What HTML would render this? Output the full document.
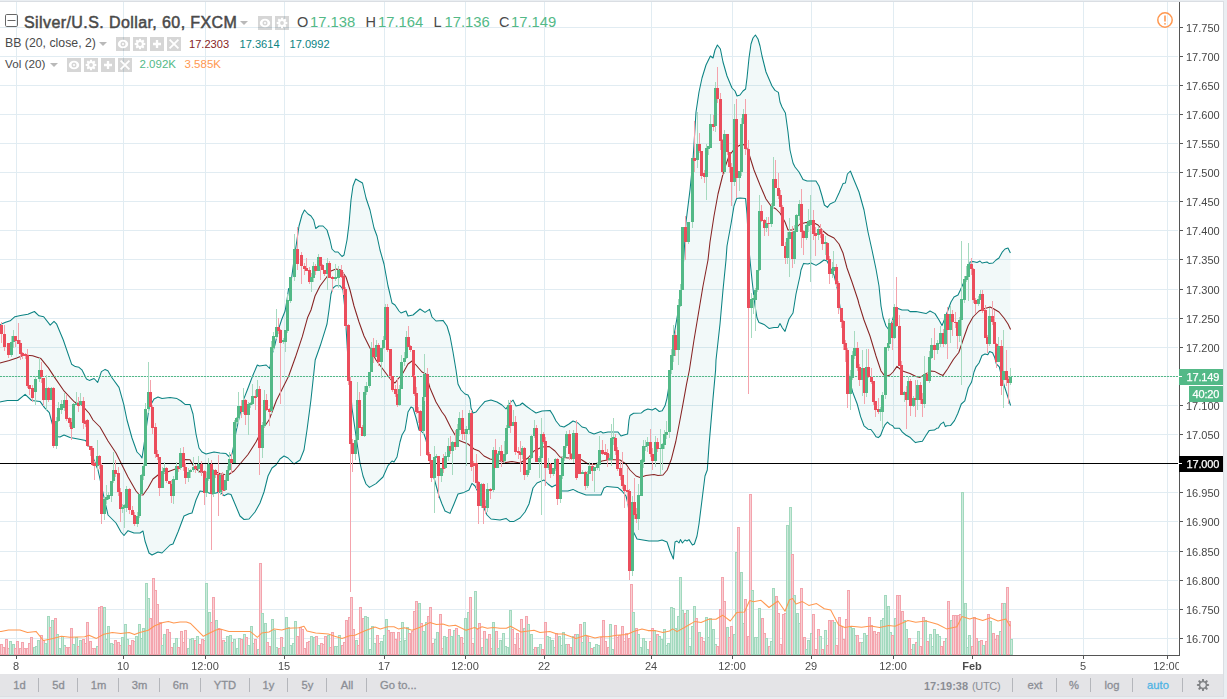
<!DOCTYPE html>
<html><head><meta charset="utf-8"><title>Silver/U.S. Dollar</title>
<style>
html,body{margin:0;padding:0;background:#eaeef2;}
body{width:1227px;height:699px;overflow:hidden;position:relative;font-family:"Liberation Sans",sans-serif;}
#wrap{position:absolute;left:0;top:0;width:1227px;height:699px;overflow:hidden;background:#eaeef2;}
#topb{position:absolute;left:0;top:1px;width:1224px;height:1px;background:#dadee3;}
#chart{position:absolute;left:0;top:2px;width:1223px;height:672px;background:#fff;}
#rb{position:absolute;left:1223px;top:1px;width:1px;height:696px;background:#dadee3;}
#tbar{position:absolute;left:0;top:674px;width:1223px;height:22px;background:#e4e4e7;}
#bb{position:absolute;left:0;top:696px;width:1224px;height:1px;background:#dcdfe3;}
svg#c{position:absolute;left:0;top:0;}
.pl,.tl,.lab{will-change:transform;}
.pl{position:absolute;left:1186px;font-size:11px;line-height:13px;color:#474747;white-space:nowrap;}
.tl{position:absolute;top:660px;width:60px;text-align:center;font-size:11px;line-height:13px;color:#4c4c4c;white-space:nowrap;}
.tl.b{font-weight:bold;}
#tclip{position:absolute;left:0;top:656px;width:1179px;height:18px;overflow:hidden;}
#tclip .tl{top:4px;}
.ib{position:absolute;}
.t1{position:absolute;font-size:16px;line-height:18px;font-weight:normal;-webkit-text-stroke:0.5px #4a4a4a;color:#4a4a4a;white-space:nowrap;letter-spacing:0.41px;}
.o1{position:absolute;font-size:14.5px;line-height:18px;color:#4a4a4a;white-space:nowrap;}
.v1{position:absolute;font-size:14.8px;line-height:18px;color:#53b987;white-space:nowrap;letter-spacing:0;}
.t2{position:absolute;font-size:12.5px;line-height:15px;color:#4a4a4a;white-space:nowrap;}
.v2{position:absolute;font-size:11.1px;line-height:15px;white-space:nowrap;}
.bt{position:absolute;top:678.4px;width:60px;text-align:center;font-size:11.2px;line-height:14px;color:#8b8e95;-webkit-text-stroke:0.3px #8b8e95;white-space:nowrap;}
.bt.au{color:#4fb4e4;-webkit-text-stroke:0.3px #4fb4e4;}
.sep{position:absolute;top:678px;width:1px;height:14px;background:#b4b6bb;}
.lab{position:absolute;left:1179px;width:44px;height:16px;font-size:11px;line-height:16px;color:#fff;text-indent:7.5px;letter-spacing:-0.15px;-webkit-text-stroke:0.25px #fff;white-space:nowrap;}
.lab i{position:absolute;left:0;top:7px;width:3px;height:1px;background:#fff;}
</style></head><body>
<div id="wrap">
<div id="topb"></div>
<div id="chart"></div>
<div id="rb"></div>
<div id="tbar"></div>
<div id="bb"></div>
<svg id="c" width="1227" height="699" viewBox="0 0 1227 699">
<path d="M0 27.5H1178M0 56.5H1178M0 85.5H1178M0 114.5H1178M0 143.5H1178M0 172.5H1178M0 201.5H1178M0 230.5H1178M0 259.5H1178M0 289.5H1178M0 318.5H1178M0 347.5H1178M0 376.5H1178M0 405.5H1178M0 434.5H1178M0 463.5H1178M0 492.5H1178M0 521.5H1178M0 551.5H1178M0 580.5H1178M0 609.5H1178M0 638.5H1178M16.5 2V655M123.5 2V655M205.5 2V655M284.5 2V655M384.5 2V655M465.5 2V655M544.5 2V655M651.5 2V655M732.5 2V655M811.5 2V655M893.5 2V655M972.5 2V655M1083.5 2V655M1167.5 2V655" stroke="#e1ecf2" stroke-width="1" fill="none" shape-rendering="crispEdges"/>
<rect x="0.5" y="644.5" width="2" height="10" fill="#f8cfd4" stroke="#f4a4ad"/>
<rect x="2.5" y="647.5" width="2" height="7" fill="#f8cfd4" stroke="#f4a4ad"/>
<rect x="5.5" y="639.5" width="2" height="15" fill="#f8cfd4" stroke="#f4a4ad"/>
<rect x="7.5" y="648.5" width="2" height="6" fill="#f8cfd4" stroke="#f4a4ad"/>
<rect x="9.5" y="641.5" width="2" height="13" fill="#cdeadc" stroke="#a2d9be"/>
<rect x="12.5" y="644.5" width="2" height="10" fill="#cdeadc" stroke="#a2d9be"/>
<rect x="14.5" y="648.5" width="2" height="6" fill="#f8cfd4" stroke="#f4a4ad"/>
<rect x="16.5" y="641.5" width="2" height="13" fill="#f8cfd4" stroke="#f4a4ad"/>
<rect x="19.5" y="648.5" width="2" height="6" fill="#f8cfd4" stroke="#f4a4ad"/>
<rect x="21.5" y="642.5" width="2" height="12" fill="#f8cfd4" stroke="#f4a4ad"/>
<rect x="23.5" y="648.5" width="2" height="6" fill="#f8cfd4" stroke="#f4a4ad"/>
<rect x="26.5" y="648.5" width="2" height="6" fill="#f8cfd4" stroke="#f4a4ad"/>
<rect x="28.5" y="643.5" width="2" height="11" fill="#f8cfd4" stroke="#f4a4ad"/>
<rect x="30.5" y="637.5" width="2" height="17" fill="#f8cfd4" stroke="#f4a4ad"/>
<rect x="33.5" y="647.5" width="2" height="7" fill="#cdeadc" stroke="#a2d9be"/>
<rect x="35.5" y="646.5" width="2" height="8" fill="#cdeadc" stroke="#a2d9be"/>
<rect x="37.5" y="640.5" width="2" height="14" fill="#cdeadc" stroke="#a2d9be"/>
<rect x="40.5" y="635.5" width="2" height="19" fill="#f8cfd4" stroke="#f4a4ad"/>
<rect x="42.5" y="640.5" width="2" height="14" fill="#f8cfd4" stroke="#f4a4ad"/>
<rect x="44.5" y="643.5" width="2" height="11" fill="#cdeadc" stroke="#a2d9be"/>
<rect x="47.5" y="616.5" width="2" height="38" fill="#cdeadc" stroke="#a2d9be"/>
<rect x="49.5" y="627.5" width="2" height="27" fill="#f8cfd4" stroke="#f4a4ad"/>
<rect x="51.5" y="620.5" width="2" height="34" fill="#cdeadc" stroke="#a2d9be"/>
<rect x="54.5" y="618.5" width="2" height="36" fill="#f8cfd4" stroke="#f4a4ad"/>
<rect x="56.5" y="634.5" width="2" height="20" fill="#cdeadc" stroke="#a2d9be"/>
<rect x="58.5" y="648.5" width="2" height="6" fill="#cdeadc" stroke="#a2d9be"/>
<rect x="61.5" y="636.5" width="2" height="18" fill="#cdeadc" stroke="#a2d9be"/>
<rect x="63.5" y="645.5" width="2" height="9" fill="#cdeadc" stroke="#a2d9be"/>
<rect x="65.5" y="647.5" width="2" height="7" fill="#f8cfd4" stroke="#f4a4ad"/>
<rect x="68.5" y="647.5" width="2" height="7" fill="#f8cfd4" stroke="#f4a4ad"/>
<rect x="70.5" y="628.5" width="2" height="26" fill="#f8cfd4" stroke="#f4a4ad"/>
<rect x="72.5" y="644.5" width="2" height="10" fill="#cdeadc" stroke="#a2d9be"/>
<rect x="75.5" y="637.5" width="2" height="17" fill="#cdeadc" stroke="#a2d9be"/>
<rect x="77.5" y="646.5" width="2" height="8" fill="#f8cfd4" stroke="#f4a4ad"/>
<rect x="79.5" y="640.5" width="2" height="14" fill="#cdeadc" stroke="#a2d9be"/>
<rect x="82.5" y="639.5" width="2" height="15" fill="#f8cfd4" stroke="#f4a4ad"/>
<rect x="84.5" y="643.5" width="2" height="11" fill="#f8cfd4" stroke="#f4a4ad"/>
<rect x="86.5" y="622.5" width="2" height="32" fill="#f8cfd4" stroke="#f4a4ad"/>
<rect x="89.5" y="641.5" width="2" height="13" fill="#f8cfd4" stroke="#f4a4ad"/>
<rect x="91.5" y="648.5" width="2" height="6" fill="#f8cfd4" stroke="#f4a4ad"/>
<rect x="93.5" y="648.5" width="2" height="6" fill="#f8cfd4" stroke="#f4a4ad"/>
<rect x="96.5" y="646.5" width="2" height="8" fill="#cdeadc" stroke="#a2d9be"/>
<rect x="98.5" y="607.5" width="2" height="47" fill="#f8cfd4" stroke="#f4a4ad"/>
<rect x="100.5" y="606.5" width="2" height="48" fill="#f8cfd4" stroke="#f4a4ad"/>
<rect x="103.5" y="607.5" width="2" height="47" fill="#cdeadc" stroke="#a2d9be"/>
<rect x="105.5" y="639.5" width="2" height="15" fill="#cdeadc" stroke="#a2d9be"/>
<rect x="107.5" y="626.5" width="2" height="28" fill="#cdeadc" stroke="#a2d9be"/>
<rect x="110.5" y="643.5" width="2" height="11" fill="#cdeadc" stroke="#a2d9be"/>
<rect x="112.5" y="644.5" width="2" height="10" fill="#cdeadc" stroke="#a2d9be"/>
<rect x="114.5" y="640.5" width="2" height="14" fill="#f8cfd4" stroke="#f4a4ad"/>
<rect x="117.5" y="642.5" width="2" height="12" fill="#f8cfd4" stroke="#f4a4ad"/>
<rect x="119.5" y="645.5" width="2" height="9" fill="#f8cfd4" stroke="#f4a4ad"/>
<rect x="121.5" y="637.5" width="2" height="17" fill="#cdeadc" stroke="#a2d9be"/>
<rect x="124.5" y="624.5" width="2" height="30" fill="#cdeadc" stroke="#a2d9be"/>
<rect x="126.5" y="639.5" width="2" height="15" fill="#cdeadc" stroke="#a2d9be"/>
<rect x="128.5" y="645.5" width="2" height="9" fill="#f8cfd4" stroke="#f4a4ad"/>
<rect x="131.5" y="640.5" width="2" height="14" fill="#f8cfd4" stroke="#f4a4ad"/>
<rect x="133.5" y="641.5" width="2" height="13" fill="#f8cfd4" stroke="#f4a4ad"/>
<rect x="135.5" y="636.5" width="2" height="18" fill="#cdeadc" stroke="#a2d9be"/>
<rect x="138.5" y="624.5" width="2" height="30" fill="#cdeadc" stroke="#a2d9be"/>
<rect x="140.5" y="638.5" width="2" height="16" fill="#cdeadc" stroke="#a2d9be"/>
<rect x="142.5" y="628.5" width="2" height="26" fill="#cdeadc" stroke="#a2d9be"/>
<rect x="145.5" y="583.5" width="2" height="71" fill="#cdeadc" stroke="#a2d9be"/>
<rect x="147.5" y="598.5" width="2" height="56" fill="#cdeadc" stroke="#a2d9be"/>
<rect x="149.5" y="618.5" width="2" height="36" fill="#f8cfd4" stroke="#f4a4ad"/>
<rect x="152.5" y="578.5" width="2" height="76" fill="#f8cfd4" stroke="#f4a4ad"/>
<rect x="154.5" y="590.5" width="2" height="64" fill="#f8cfd4" stroke="#f4a4ad"/>
<rect x="156.5" y="604.5" width="2" height="50" fill="#f8cfd4" stroke="#f4a4ad"/>
<rect x="159.5" y="622.5" width="2" height="32" fill="#f8cfd4" stroke="#f4a4ad"/>
<rect x="161.5" y="645.5" width="2" height="9" fill="#cdeadc" stroke="#a2d9be"/>
<rect x="163.5" y="634.5" width="2" height="20" fill="#cdeadc" stroke="#a2d9be"/>
<rect x="166.5" y="629.5" width="2" height="25" fill="#f8cfd4" stroke="#f4a4ad"/>
<rect x="168.5" y="632.5" width="2" height="22" fill="#f8cfd4" stroke="#f4a4ad"/>
<rect x="170.5" y="647.5" width="2" height="7" fill="#f8cfd4" stroke="#f4a4ad"/>
<rect x="173.5" y="643.5" width="2" height="11" fill="#cdeadc" stroke="#a2d9be"/>
<rect x="175.5" y="638.5" width="2" height="16" fill="#cdeadc" stroke="#a2d9be"/>
<rect x="177.5" y="647.5" width="2" height="7" fill="#f8cfd4" stroke="#f4a4ad"/>
<rect x="180.5" y="631.5" width="2" height="23" fill="#f8cfd4" stroke="#f4a4ad"/>
<rect x="182.5" y="642.5" width="2" height="12" fill="#f8cfd4" stroke="#f4a4ad"/>
<rect x="184.5" y="630.5" width="2" height="24" fill="#f8cfd4" stroke="#f4a4ad"/>
<rect x="187.5" y="648.5" width="2" height="6" fill="#cdeadc" stroke="#a2d9be"/>
<rect x="189.5" y="639.5" width="2" height="15" fill="#cdeadc" stroke="#a2d9be"/>
<rect x="191.5" y="638.5" width="2" height="16" fill="#cdeadc" stroke="#a2d9be"/>
<rect x="194.5" y="640.5" width="2" height="14" fill="#f8cfd4" stroke="#f4a4ad"/>
<rect x="196.5" y="636.5" width="2" height="18" fill="#cdeadc" stroke="#a2d9be"/>
<rect x="198.5" y="644.5" width="2" height="10" fill="#f8cfd4" stroke="#f4a4ad"/>
<rect x="201.5" y="639.5" width="2" height="15" fill="#f8cfd4" stroke="#f4a4ad"/>
<rect x="203.5" y="640.5" width="2" height="14" fill="#f8cfd4" stroke="#f4a4ad"/>
<rect x="205.5" y="583.5" width="2" height="71" fill="#cdeadc" stroke="#a2d9be"/>
<rect x="208.5" y="612.5" width="2" height="42" fill="#cdeadc" stroke="#a2d9be"/>
<rect x="210.5" y="622.5" width="2" height="32" fill="#f8cfd4" stroke="#f4a4ad"/>
<rect x="212.5" y="597.5" width="2" height="57" fill="#f8cfd4" stroke="#f4a4ad"/>
<rect x="215.5" y="620.5" width="2" height="34" fill="#cdeadc" stroke="#a2d9be"/>
<rect x="217.5" y="628.5" width="2" height="26" fill="#f8cfd4" stroke="#f4a4ad"/>
<rect x="219.5" y="629.5" width="2" height="25" fill="#f8cfd4" stroke="#f4a4ad"/>
<rect x="222.5" y="640.5" width="2" height="14" fill="#f8cfd4" stroke="#f4a4ad"/>
<rect x="224.5" y="642.5" width="2" height="12" fill="#cdeadc" stroke="#a2d9be"/>
<rect x="226.5" y="636.5" width="2" height="18" fill="#cdeadc" stroke="#a2d9be"/>
<rect x="229.5" y="635.5" width="2" height="19" fill="#cdeadc" stroke="#a2d9be"/>
<rect x="231.5" y="642.5" width="2" height="12" fill="#f8cfd4" stroke="#f4a4ad"/>
<rect x="233.5" y="639.5" width="2" height="15" fill="#cdeadc" stroke="#a2d9be"/>
<rect x="236.5" y="648.5" width="2" height="6" fill="#cdeadc" stroke="#a2d9be"/>
<rect x="238.5" y="638.5" width="2" height="16" fill="#cdeadc" stroke="#a2d9be"/>
<rect x="240.5" y="639.5" width="2" height="15" fill="#f8cfd4" stroke="#f4a4ad"/>
<rect x="243.5" y="634.5" width="2" height="20" fill="#cdeadc" stroke="#a2d9be"/>
<rect x="245.5" y="637.5" width="2" height="17" fill="#f8cfd4" stroke="#f4a4ad"/>
<rect x="247.5" y="645.5" width="2" height="9" fill="#cdeadc" stroke="#a2d9be"/>
<rect x="250.5" y="626.5" width="2" height="28" fill="#cdeadc" stroke="#a2d9be"/>
<rect x="252.5" y="643.5" width="2" height="11" fill="#cdeadc" stroke="#a2d9be"/>
<rect x="254.5" y="639.5" width="2" height="15" fill="#f8cfd4" stroke="#f4a4ad"/>
<rect x="257.5" y="649.5" width="2" height="5" fill="#cdeadc" stroke="#a2d9be"/>
<rect x="259.5" y="563.5" width="2" height="91" fill="#f8cfd4" stroke="#f4a4ad"/>
<rect x="261.5" y="613.5" width="2" height="41" fill="#cdeadc" stroke="#a2d9be"/>
<rect x="264.5" y="623.5" width="2" height="31" fill="#cdeadc" stroke="#a2d9be"/>
<rect x="266.5" y="642.5" width="2" height="12" fill="#f8cfd4" stroke="#f4a4ad"/>
<rect x="268.5" y="646.5" width="2" height="8" fill="#f8cfd4" stroke="#f4a4ad"/>
<rect x="271.5" y="619.5" width="2" height="35" fill="#cdeadc" stroke="#a2d9be"/>
<rect x="273.5" y="630.5" width="2" height="24" fill="#cdeadc" stroke="#a2d9be"/>
<rect x="275.5" y="647.5" width="2" height="7" fill="#cdeadc" stroke="#a2d9be"/>
<rect x="278.5" y="648.5" width="2" height="6" fill="#f8cfd4" stroke="#f4a4ad"/>
<rect x="280.5" y="637.5" width="2" height="17" fill="#f8cfd4" stroke="#f4a4ad"/>
<rect x="282.5" y="647.5" width="2" height="7" fill="#cdeadc" stroke="#a2d9be"/>
<rect x="285.5" y="617.5" width="2" height="37" fill="#cdeadc" stroke="#a2d9be"/>
<rect x="287.5" y="627.5" width="2" height="27" fill="#cdeadc" stroke="#a2d9be"/>
<rect x="289.5" y="645.5" width="2" height="9" fill="#cdeadc" stroke="#a2d9be"/>
<rect x="292.5" y="643.5" width="2" height="11" fill="#cdeadc" stroke="#a2d9be"/>
<rect x="294.5" y="621.5" width="2" height="33" fill="#cdeadc" stroke="#a2d9be"/>
<rect x="296.5" y="636.5" width="2" height="18" fill="#f8cfd4" stroke="#f4a4ad"/>
<rect x="299.5" y="627.5" width="2" height="27" fill="#f8cfd4" stroke="#f4a4ad"/>
<rect x="301.5" y="629.5" width="2" height="25" fill="#f8cfd4" stroke="#f4a4ad"/>
<rect x="303.5" y="648.5" width="2" height="6" fill="#f8cfd4" stroke="#f4a4ad"/>
<rect x="306.5" y="642.5" width="2" height="12" fill="#f8cfd4" stroke="#f4a4ad"/>
<rect x="308.5" y="641.5" width="2" height="13" fill="#f8cfd4" stroke="#f4a4ad"/>
<rect x="310.5" y="636.5" width="2" height="18" fill="#cdeadc" stroke="#a2d9be"/>
<rect x="313.5" y="637.5" width="2" height="17" fill="#cdeadc" stroke="#a2d9be"/>
<rect x="315.5" y="636.5" width="2" height="18" fill="#f8cfd4" stroke="#f4a4ad"/>
<rect x="317.5" y="645.5" width="2" height="9" fill="#cdeadc" stroke="#a2d9be"/>
<rect x="320.5" y="643.5" width="2" height="11" fill="#f8cfd4" stroke="#f4a4ad"/>
<rect x="322.5" y="644.5" width="2" height="10" fill="#f8cfd4" stroke="#f4a4ad"/>
<rect x="324.5" y="636.5" width="2" height="18" fill="#f8cfd4" stroke="#f4a4ad"/>
<rect x="327.5" y="635.5" width="2" height="19" fill="#cdeadc" stroke="#a2d9be"/>
<rect x="329.5" y="647.5" width="2" height="7" fill="#f8cfd4" stroke="#f4a4ad"/>
<rect x="331.5" y="632.5" width="2" height="22" fill="#f8cfd4" stroke="#f4a4ad"/>
<rect x="334.5" y="646.5" width="2" height="8" fill="#cdeadc" stroke="#a2d9be"/>
<rect x="336.5" y="646.5" width="2" height="8" fill="#cdeadc" stroke="#a2d9be"/>
<rect x="338.5" y="635.5" width="2" height="19" fill="#cdeadc" stroke="#a2d9be"/>
<rect x="341.5" y="645.5" width="2" height="9" fill="#f8cfd4" stroke="#f4a4ad"/>
<rect x="343.5" y="642.5" width="2" height="12" fill="#f8cfd4" stroke="#f4a4ad"/>
<rect x="345.5" y="620.5" width="2" height="34" fill="#f8cfd4" stroke="#f4a4ad"/>
<rect x="348.5" y="617.5" width="2" height="37" fill="#f8cfd4" stroke="#f4a4ad"/>
<rect x="350.5" y="597.5" width="2" height="57" fill="#f8cfd4" stroke="#f4a4ad"/>
<rect x="352.5" y="629.5" width="2" height="25" fill="#f8cfd4" stroke="#f4a4ad"/>
<rect x="355.5" y="640.5" width="2" height="14" fill="#cdeadc" stroke="#a2d9be"/>
<rect x="357.5" y="645.5" width="2" height="9" fill="#f8cfd4" stroke="#f4a4ad"/>
<rect x="359.5" y="607.5" width="2" height="47" fill="#f8cfd4" stroke="#f4a4ad"/>
<rect x="362.5" y="618.5" width="2" height="36" fill="#f8cfd4" stroke="#f4a4ad"/>
<rect x="364.5" y="616.5" width="2" height="38" fill="#cdeadc" stroke="#a2d9be"/>
<rect x="366.5" y="617.5" width="2" height="37" fill="#cdeadc" stroke="#a2d9be"/>
<rect x="369.5" y="649.5" width="2" height="5" fill="#cdeadc" stroke="#a2d9be"/>
<rect x="371.5" y="626.5" width="2" height="28" fill="#cdeadc" stroke="#a2d9be"/>
<rect x="373.5" y="643.5" width="2" height="11" fill="#cdeadc" stroke="#a2d9be"/>
<rect x="376.5" y="635.5" width="2" height="19" fill="#f8cfd4" stroke="#f4a4ad"/>
<rect x="378.5" y="643.5" width="2" height="11" fill="#f8cfd4" stroke="#f4a4ad"/>
<rect x="380.5" y="641.5" width="2" height="13" fill="#cdeadc" stroke="#a2d9be"/>
<rect x="383.5" y="635.5" width="2" height="19" fill="#cdeadc" stroke="#a2d9be"/>
<rect x="385.5" y="619.5" width="2" height="35" fill="#cdeadc" stroke="#a2d9be"/>
<rect x="387.5" y="630.5" width="2" height="24" fill="#f8cfd4" stroke="#f4a4ad"/>
<rect x="390.5" y="632.5" width="2" height="22" fill="#f8cfd4" stroke="#f4a4ad"/>
<rect x="392.5" y="632.5" width="2" height="22" fill="#f8cfd4" stroke="#f4a4ad"/>
<rect x="394.5" y="639.5" width="2" height="15" fill="#f8cfd4" stroke="#f4a4ad"/>
<rect x="397.5" y="632.5" width="2" height="22" fill="#f8cfd4" stroke="#f4a4ad"/>
<rect x="399.5" y="641.5" width="2" height="13" fill="#cdeadc" stroke="#a2d9be"/>
<rect x="401.5" y="622.5" width="2" height="32" fill="#cdeadc" stroke="#a2d9be"/>
<rect x="404.5" y="640.5" width="2" height="14" fill="#cdeadc" stroke="#a2d9be"/>
<rect x="406.5" y="627.5" width="2" height="27" fill="#cdeadc" stroke="#a2d9be"/>
<rect x="408.5" y="633.5" width="2" height="21" fill="#f8cfd4" stroke="#f4a4ad"/>
<rect x="411.5" y="631.5" width="2" height="23" fill="#f8cfd4" stroke="#f4a4ad"/>
<rect x="413.5" y="611.5" width="2" height="43" fill="#f8cfd4" stroke="#f4a4ad"/>
<rect x="415.5" y="601.5" width="2" height="53" fill="#f8cfd4" stroke="#f4a4ad"/>
<rect x="418.5" y="603.5" width="2" height="51" fill="#cdeadc" stroke="#a2d9be"/>
<rect x="420.5" y="623.5" width="2" height="31" fill="#f8cfd4" stroke="#f4a4ad"/>
<rect x="422.5" y="631.5" width="2" height="23" fill="#cdeadc" stroke="#a2d9be"/>
<rect x="425.5" y="622.5" width="2" height="32" fill="#cdeadc" stroke="#a2d9be"/>
<rect x="427.5" y="616.5" width="2" height="38" fill="#f8cfd4" stroke="#f4a4ad"/>
<rect x="429.5" y="607.5" width="2" height="47" fill="#f8cfd4" stroke="#f4a4ad"/>
<rect x="432.5" y="643.5" width="2" height="11" fill="#f8cfd4" stroke="#f4a4ad"/>
<rect x="434.5" y="639.5" width="2" height="15" fill="#cdeadc" stroke="#a2d9be"/>
<rect x="436.5" y="632.5" width="2" height="22" fill="#cdeadc" stroke="#a2d9be"/>
<rect x="439.5" y="614.5" width="2" height="40" fill="#f8cfd4" stroke="#f4a4ad"/>
<rect x="441.5" y="648.5" width="2" height="6" fill="#f8cfd4" stroke="#f4a4ad"/>
<rect x="443.5" y="636.5" width="2" height="18" fill="#cdeadc" stroke="#a2d9be"/>
<rect x="446.5" y="637.5" width="2" height="17" fill="#cdeadc" stroke="#a2d9be"/>
<rect x="448.5" y="629.5" width="2" height="25" fill="#f8cfd4" stroke="#f4a4ad"/>
<rect x="450.5" y="636.5" width="2" height="18" fill="#cdeadc" stroke="#a2d9be"/>
<rect x="453.5" y="630.5" width="2" height="24" fill="#cdeadc" stroke="#a2d9be"/>
<rect x="455.5" y="628.5" width="2" height="26" fill="#f8cfd4" stroke="#f4a4ad"/>
<rect x="457.5" y="635.5" width="2" height="19" fill="#cdeadc" stroke="#a2d9be"/>
<rect x="460.5" y="637.5" width="2" height="17" fill="#f8cfd4" stroke="#f4a4ad"/>
<rect x="462.5" y="643.5" width="2" height="11" fill="#f8cfd4" stroke="#f4a4ad"/>
<rect x="464.5" y="618.5" width="2" height="36" fill="#cdeadc" stroke="#a2d9be"/>
<rect x="467.5" y="612.5" width="2" height="42" fill="#cdeadc" stroke="#a2d9be"/>
<rect x="469.5" y="597.5" width="2" height="57" fill="#f8cfd4" stroke="#f4a4ad"/>
<rect x="471.5" y="643.5" width="2" height="11" fill="#f8cfd4" stroke="#f4a4ad"/>
<rect x="474.5" y="591.5" width="2" height="63" fill="#cdeadc" stroke="#a2d9be"/>
<rect x="476.5" y="629.5" width="2" height="25" fill="#f8cfd4" stroke="#f4a4ad"/>
<rect x="478.5" y="623.5" width="2" height="31" fill="#f8cfd4" stroke="#f4a4ad"/>
<rect x="481.5" y="647.5" width="2" height="7" fill="#cdeadc" stroke="#a2d9be"/>
<rect x="483.5" y="631.5" width="2" height="23" fill="#f8cfd4" stroke="#f4a4ad"/>
<rect x="485.5" y="639.5" width="2" height="15" fill="#cdeadc" stroke="#a2d9be"/>
<rect x="488.5" y="634.5" width="2" height="20" fill="#f8cfd4" stroke="#f4a4ad"/>
<rect x="490.5" y="648.5" width="2" height="6" fill="#f8cfd4" stroke="#f4a4ad"/>
<rect x="492.5" y="622.5" width="2" height="32" fill="#cdeadc" stroke="#a2d9be"/>
<rect x="495.5" y="631.5" width="2" height="23" fill="#f8cfd4" stroke="#f4a4ad"/>
<rect x="497.5" y="648.5" width="2" height="6" fill="#cdeadc" stroke="#a2d9be"/>
<rect x="499.5" y="640.5" width="2" height="14" fill="#cdeadc" stroke="#a2d9be"/>
<rect x="502.5" y="633.5" width="2" height="21" fill="#cdeadc" stroke="#a2d9be"/>
<rect x="504.5" y="646.5" width="2" height="8" fill="#cdeadc" stroke="#a2d9be"/>
<rect x="506.5" y="647.5" width="2" height="7" fill="#cdeadc" stroke="#a2d9be"/>
<rect x="509.5" y="610.5" width="2" height="44" fill="#cdeadc" stroke="#a2d9be"/>
<rect x="511.5" y="629.5" width="2" height="25" fill="#f8cfd4" stroke="#f4a4ad"/>
<rect x="513.5" y="644.5" width="2" height="10" fill="#f8cfd4" stroke="#f4a4ad"/>
<rect x="516.5" y="633.5" width="2" height="21" fill="#f8cfd4" stroke="#f4a4ad"/>
<rect x="518.5" y="648.5" width="2" height="6" fill="#f8cfd4" stroke="#f4a4ad"/>
<rect x="520.5" y="619.5" width="2" height="35" fill="#f8cfd4" stroke="#f4a4ad"/>
<rect x="523.5" y="628.5" width="2" height="26" fill="#cdeadc" stroke="#a2d9be"/>
<rect x="525.5" y="616.5" width="2" height="38" fill="#f8cfd4" stroke="#f4a4ad"/>
<rect x="527.5" y="624.5" width="2" height="30" fill="#cdeadc" stroke="#a2d9be"/>
<rect x="530.5" y="634.5" width="2" height="20" fill="#cdeadc" stroke="#a2d9be"/>
<rect x="532.5" y="649.5" width="2" height="5" fill="#cdeadc" stroke="#a2d9be"/>
<rect x="534.5" y="647.5" width="2" height="7" fill="#f8cfd4" stroke="#f4a4ad"/>
<rect x="537.5" y="647.5" width="2" height="7" fill="#cdeadc" stroke="#a2d9be"/>
<rect x="539.5" y="644.5" width="2" height="10" fill="#cdeadc" stroke="#a2d9be"/>
<rect x="541.5" y="649.5" width="2" height="5" fill="#f8cfd4" stroke="#f4a4ad"/>
<rect x="544.5" y="622.5" width="2" height="32" fill="#f8cfd4" stroke="#f4a4ad"/>
<rect x="546.5" y="636.5" width="2" height="18" fill="#cdeadc" stroke="#a2d9be"/>
<rect x="548.5" y="637.5" width="2" height="17" fill="#cdeadc" stroke="#a2d9be"/>
<rect x="551.5" y="640.5" width="2" height="14" fill="#cdeadc" stroke="#a2d9be"/>
<rect x="553.5" y="647.5" width="2" height="7" fill="#cdeadc" stroke="#a2d9be"/>
<rect x="555.5" y="633.5" width="2" height="21" fill="#f8cfd4" stroke="#f4a4ad"/>
<rect x="558.5" y="636.5" width="2" height="18" fill="#cdeadc" stroke="#a2d9be"/>
<rect x="560.5" y="645.5" width="2" height="9" fill="#cdeadc" stroke="#a2d9be"/>
<rect x="562.5" y="632.5" width="2" height="22" fill="#cdeadc" stroke="#a2d9be"/>
<rect x="565.5" y="644.5" width="2" height="10" fill="#cdeadc" stroke="#a2d9be"/>
<rect x="567.5" y="644.5" width="2" height="10" fill="#f8cfd4" stroke="#f4a4ad"/>
<rect x="569.5" y="647.5" width="2" height="7" fill="#f8cfd4" stroke="#f4a4ad"/>
<rect x="572.5" y="636.5" width="2" height="18" fill="#cdeadc" stroke="#a2d9be"/>
<rect x="574.5" y="634.5" width="2" height="20" fill="#f8cfd4" stroke="#f4a4ad"/>
<rect x="576.5" y="634.5" width="2" height="20" fill="#cdeadc" stroke="#a2d9be"/>
<rect x="579.5" y="624.5" width="2" height="30" fill="#f8cfd4" stroke="#f4a4ad"/>
<rect x="581.5" y="642.5" width="2" height="12" fill="#cdeadc" stroke="#a2d9be"/>
<rect x="583.5" y="622.5" width="2" height="32" fill="#cdeadc" stroke="#a2d9be"/>
<rect x="586.5" y="636.5" width="2" height="18" fill="#f8cfd4" stroke="#f4a4ad"/>
<rect x="588.5" y="642.5" width="2" height="12" fill="#cdeadc" stroke="#a2d9be"/>
<rect x="590.5" y="648.5" width="2" height="6" fill="#f8cfd4" stroke="#f4a4ad"/>
<rect x="593.5" y="647.5" width="2" height="7" fill="#cdeadc" stroke="#a2d9be"/>
<rect x="595.5" y="644.5" width="2" height="10" fill="#cdeadc" stroke="#a2d9be"/>
<rect x="597.5" y="645.5" width="2" height="9" fill="#cdeadc" stroke="#a2d9be"/>
<rect x="600.5" y="637.5" width="2" height="17" fill="#f8cfd4" stroke="#f4a4ad"/>
<rect x="602.5" y="620.5" width="2" height="34" fill="#f8cfd4" stroke="#f4a4ad"/>
<rect x="604.5" y="641.5" width="2" height="13" fill="#f8cfd4" stroke="#f4a4ad"/>
<rect x="607.5" y="647.5" width="2" height="7" fill="#f8cfd4" stroke="#f4a4ad"/>
<rect x="609.5" y="624.5" width="2" height="30" fill="#cdeadc" stroke="#a2d9be"/>
<rect x="611.5" y="649.5" width="2" height="5" fill="#cdeadc" stroke="#a2d9be"/>
<rect x="614.5" y="625.5" width="2" height="29" fill="#f8cfd4" stroke="#f4a4ad"/>
<rect x="616.5" y="637.5" width="2" height="17" fill="#f8cfd4" stroke="#f4a4ad"/>
<rect x="618.5" y="635.5" width="2" height="19" fill="#f8cfd4" stroke="#f4a4ad"/>
<rect x="621.5" y="626.5" width="2" height="28" fill="#f8cfd4" stroke="#f4a4ad"/>
<rect x="623.5" y="641.5" width="2" height="13" fill="#f8cfd4" stroke="#f4a4ad"/>
<rect x="625.5" y="633.5" width="2" height="21" fill="#f8cfd4" stroke="#f4a4ad"/>
<rect x="628.5" y="638.5" width="2" height="16" fill="#f8cfd4" stroke="#f4a4ad"/>
<rect x="630.5" y="584.5" width="2" height="70" fill="#f8cfd4" stroke="#f4a4ad"/>
<rect x="632.5" y="612.5" width="2" height="42" fill="#cdeadc" stroke="#a2d9be"/>
<rect x="635.5" y="628.5" width="2" height="26" fill="#f8cfd4" stroke="#f4a4ad"/>
<rect x="637.5" y="634.5" width="2" height="20" fill="#cdeadc" stroke="#a2d9be"/>
<rect x="639.5" y="647.5" width="2" height="7" fill="#cdeadc" stroke="#a2d9be"/>
<rect x="642.5" y="638.5" width="2" height="16" fill="#cdeadc" stroke="#a2d9be"/>
<rect x="644.5" y="641.5" width="2" height="13" fill="#cdeadc" stroke="#a2d9be"/>
<rect x="646.5" y="649.5" width="2" height="5" fill="#cdeadc" stroke="#a2d9be"/>
<rect x="649.5" y="641.5" width="2" height="13" fill="#f8cfd4" stroke="#f4a4ad"/>
<rect x="651.5" y="628.5" width="2" height="26" fill="#f8cfd4" stroke="#f4a4ad"/>
<rect x="653.5" y="630.5" width="2" height="24" fill="#cdeadc" stroke="#a2d9be"/>
<rect x="656.5" y="634.5" width="2" height="20" fill="#f8cfd4" stroke="#f4a4ad"/>
<rect x="658.5" y="636.5" width="2" height="18" fill="#cdeadc" stroke="#a2d9be"/>
<rect x="660.5" y="639.5" width="2" height="15" fill="#cdeadc" stroke="#a2d9be"/>
<rect x="663.5" y="629.5" width="2" height="25" fill="#cdeadc" stroke="#a2d9be"/>
<rect x="665.5" y="645.5" width="2" height="9" fill="#cdeadc" stroke="#a2d9be"/>
<rect x="667.5" y="643.5" width="2" height="11" fill="#cdeadc" stroke="#a2d9be"/>
<rect x="670.5" y="607.5" width="2" height="47" fill="#cdeadc" stroke="#a2d9be"/>
<rect x="672.5" y="608.5" width="2" height="46" fill="#cdeadc" stroke="#a2d9be"/>
<rect x="674.5" y="628.5" width="2" height="26" fill="#cdeadc" stroke="#a2d9be"/>
<rect x="677.5" y="616.5" width="2" height="38" fill="#cdeadc" stroke="#a2d9be"/>
<rect x="679.5" y="577.5" width="2" height="77" fill="#cdeadc" stroke="#a2d9be"/>
<rect x="681.5" y="610.5" width="2" height="44" fill="#cdeadc" stroke="#a2d9be"/>
<rect x="684.5" y="613.5" width="2" height="41" fill="#f8cfd4" stroke="#f4a4ad"/>
<rect x="686.5" y="610.5" width="2" height="44" fill="#cdeadc" stroke="#a2d9be"/>
<rect x="688.5" y="646.5" width="2" height="8" fill="#cdeadc" stroke="#a2d9be"/>
<rect x="691.5" y="626.5" width="2" height="28" fill="#cdeadc" stroke="#a2d9be"/>
<rect x="693.5" y="606.5" width="2" height="48" fill="#cdeadc" stroke="#a2d9be"/>
<rect x="695.5" y="618.5" width="2" height="36" fill="#f8cfd4" stroke="#f4a4ad"/>
<rect x="698.5" y="632.5" width="2" height="22" fill="#cdeadc" stroke="#a2d9be"/>
<rect x="700.5" y="637.5" width="2" height="17" fill="#f8cfd4" stroke="#f4a4ad"/>
<rect x="702.5" y="641.5" width="2" height="13" fill="#f8cfd4" stroke="#f4a4ad"/>
<rect x="705.5" y="617.5" width="2" height="37" fill="#cdeadc" stroke="#a2d9be"/>
<rect x="707.5" y="637.5" width="2" height="17" fill="#cdeadc" stroke="#a2d9be"/>
<rect x="709.5" y="618.5" width="2" height="36" fill="#cdeadc" stroke="#a2d9be"/>
<rect x="712.5" y="629.5" width="2" height="25" fill="#cdeadc" stroke="#a2d9be"/>
<rect x="714.5" y="644.5" width="2" height="10" fill="#cdeadc" stroke="#a2d9be"/>
<rect x="716.5" y="646.5" width="2" height="8" fill="#f8cfd4" stroke="#f4a4ad"/>
<rect x="719.5" y="609.5" width="2" height="45" fill="#f8cfd4" stroke="#f4a4ad"/>
<rect x="721.5" y="577.5" width="2" height="77" fill="#f8cfd4" stroke="#f4a4ad"/>
<rect x="723.5" y="601.5" width="2" height="53" fill="#f8cfd4" stroke="#f4a4ad"/>
<rect x="726.5" y="627.5" width="2" height="27" fill="#cdeadc" stroke="#a2d9be"/>
<rect x="728.5" y="637.5" width="2" height="17" fill="#f8cfd4" stroke="#f4a4ad"/>
<rect x="730.5" y="626.5" width="2" height="28" fill="#f8cfd4" stroke="#f4a4ad"/>
<rect x="733.5" y="634.5" width="2" height="20" fill="#cdeadc" stroke="#a2d9be"/>
<rect x="735.5" y="552.5" width="2" height="102" fill="#cdeadc" stroke="#a2d9be"/>
<rect x="737.5" y="527.5" width="2" height="127" fill="#f8cfd4" stroke="#f4a4ad"/>
<rect x="740.5" y="572.5" width="2" height="82" fill="#cdeadc" stroke="#a2d9be"/>
<rect x="742.5" y="623.5" width="2" height="31" fill="#cdeadc" stroke="#a2d9be"/>
<rect x="744.5" y="599.5" width="2" height="55" fill="#f8cfd4" stroke="#f4a4ad"/>
<rect x="747.5" y="636.5" width="2" height="18" fill="#f8cfd4" stroke="#f4a4ad"/>
<rect x="749.5" y="494.5" width="2" height="160" fill="#f8cfd4" stroke="#f4a4ad"/>
<rect x="751.5" y="590.5" width="2" height="64" fill="#cdeadc" stroke="#a2d9be"/>
<rect x="754.5" y="637.5" width="2" height="17" fill="#cdeadc" stroke="#a2d9be"/>
<rect x="756.5" y="637.5" width="2" height="17" fill="#cdeadc" stroke="#a2d9be"/>
<rect x="758.5" y="608.5" width="2" height="46" fill="#cdeadc" stroke="#a2d9be"/>
<rect x="761.5" y="618.5" width="2" height="36" fill="#f8cfd4" stroke="#f4a4ad"/>
<rect x="763.5" y="633.5" width="2" height="21" fill="#f8cfd4" stroke="#f4a4ad"/>
<rect x="765.5" y="638.5" width="2" height="16" fill="#cdeadc" stroke="#a2d9be"/>
<rect x="768.5" y="646.5" width="2" height="8" fill="#f8cfd4" stroke="#f4a4ad"/>
<rect x="770.5" y="641.5" width="2" height="13" fill="#cdeadc" stroke="#a2d9be"/>
<rect x="772.5" y="588.5" width="2" height="66" fill="#cdeadc" stroke="#a2d9be"/>
<rect x="775.5" y="596.5" width="2" height="58" fill="#f8cfd4" stroke="#f4a4ad"/>
<rect x="777.5" y="613.5" width="2" height="41" fill="#f8cfd4" stroke="#f4a4ad"/>
<rect x="779.5" y="644.5" width="2" height="10" fill="#f8cfd4" stroke="#f4a4ad"/>
<rect x="782.5" y="614.5" width="2" height="40" fill="#f8cfd4" stroke="#f4a4ad"/>
<rect x="784.5" y="613.5" width="2" height="41" fill="#f8cfd4" stroke="#f4a4ad"/>
<rect x="786.5" y="525.5" width="2" height="129" fill="#cdeadc" stroke="#a2d9be"/>
<rect x="789.5" y="507.5" width="2" height="147" fill="#cdeadc" stroke="#a2d9be"/>
<rect x="791.5" y="554.5" width="2" height="100" fill="#f8cfd4" stroke="#f4a4ad"/>
<rect x="793.5" y="595.5" width="2" height="59" fill="#cdeadc" stroke="#a2d9be"/>
<rect x="796.5" y="613.5" width="2" height="41" fill="#cdeadc" stroke="#a2d9be"/>
<rect x="798.5" y="623.5" width="2" height="31" fill="#cdeadc" stroke="#a2d9be"/>
<rect x="800.5" y="588.5" width="2" height="66" fill="#f8cfd4" stroke="#f4a4ad"/>
<rect x="803.5" y="637.5" width="2" height="17" fill="#f8cfd4" stroke="#f4a4ad"/>
<rect x="805.5" y="649.5" width="2" height="5" fill="#cdeadc" stroke="#a2d9be"/>
<rect x="807.5" y="640.5" width="2" height="14" fill="#cdeadc" stroke="#a2d9be"/>
<rect x="810.5" y="633.5" width="2" height="21" fill="#cdeadc" stroke="#a2d9be"/>
<rect x="812.5" y="614.5" width="2" height="40" fill="#f8cfd4" stroke="#f4a4ad"/>
<rect x="814.5" y="649.5" width="2" height="5" fill="#f8cfd4" stroke="#f4a4ad"/>
<rect x="817.5" y="629.5" width="2" height="25" fill="#f8cfd4" stroke="#f4a4ad"/>
<rect x="819.5" y="636.5" width="2" height="18" fill="#cdeadc" stroke="#a2d9be"/>
<rect x="821.5" y="649.5" width="2" height="5" fill="#f8cfd4" stroke="#f4a4ad"/>
<rect x="824.5" y="630.5" width="2" height="24" fill="#cdeadc" stroke="#a2d9be"/>
<rect x="826.5" y="645.5" width="2" height="9" fill="#f8cfd4" stroke="#f4a4ad"/>
<rect x="828.5" y="620.5" width="2" height="34" fill="#f8cfd4" stroke="#f4a4ad"/>
<rect x="831.5" y="620.5" width="2" height="34" fill="#f8cfd4" stroke="#f4a4ad"/>
<rect x="833.5" y="622.5" width="2" height="32" fill="#cdeadc" stroke="#a2d9be"/>
<rect x="835.5" y="645.5" width="2" height="9" fill="#f8cfd4" stroke="#f4a4ad"/>
<rect x="838.5" y="617.5" width="2" height="37" fill="#f8cfd4" stroke="#f4a4ad"/>
<rect x="840.5" y="626.5" width="2" height="28" fill="#f8cfd4" stroke="#f4a4ad"/>
<rect x="842.5" y="639.5" width="2" height="15" fill="#f8cfd4" stroke="#f4a4ad"/>
<rect x="845.5" y="619.5" width="2" height="35" fill="#f8cfd4" stroke="#f4a4ad"/>
<rect x="847.5" y="590.5" width="2" height="64" fill="#f8cfd4" stroke="#f4a4ad"/>
<rect x="849.5" y="627.5" width="2" height="27" fill="#cdeadc" stroke="#a2d9be"/>
<rect x="852.5" y="628.5" width="2" height="26" fill="#cdeadc" stroke="#a2d9be"/>
<rect x="854.5" y="635.5" width="2" height="19" fill="#cdeadc" stroke="#a2d9be"/>
<rect x="856.5" y="635.5" width="2" height="19" fill="#f8cfd4" stroke="#f4a4ad"/>
<rect x="859.5" y="642.5" width="2" height="12" fill="#f8cfd4" stroke="#f4a4ad"/>
<rect x="861.5" y="642.5" width="2" height="12" fill="#cdeadc" stroke="#a2d9be"/>
<rect x="863.5" y="633.5" width="2" height="21" fill="#cdeadc" stroke="#a2d9be"/>
<rect x="866.5" y="635.5" width="2" height="19" fill="#cdeadc" stroke="#a2d9be"/>
<rect x="868.5" y="617.5" width="2" height="37" fill="#f8cfd4" stroke="#f4a4ad"/>
<rect x="870.5" y="625.5" width="2" height="29" fill="#f8cfd4" stroke="#f4a4ad"/>
<rect x="873.5" y="631.5" width="2" height="23" fill="#f8cfd4" stroke="#f4a4ad"/>
<rect x="875.5" y="634.5" width="2" height="20" fill="#f8cfd4" stroke="#f4a4ad"/>
<rect x="877.5" y="632.5" width="2" height="22" fill="#f8cfd4" stroke="#f4a4ad"/>
<rect x="880.5" y="620.5" width="2" height="34" fill="#cdeadc" stroke="#a2d9be"/>
<rect x="882.5" y="618.5" width="2" height="36" fill="#cdeadc" stroke="#a2d9be"/>
<rect x="884.5" y="595.5" width="2" height="59" fill="#cdeadc" stroke="#a2d9be"/>
<rect x="887.5" y="606.5" width="2" height="48" fill="#cdeadc" stroke="#a2d9be"/>
<rect x="889.5" y="632.5" width="2" height="22" fill="#cdeadc" stroke="#a2d9be"/>
<rect x="891.5" y="635.5" width="2" height="19" fill="#f8cfd4" stroke="#f4a4ad"/>
<rect x="894.5" y="618.5" width="2" height="36" fill="#cdeadc" stroke="#a2d9be"/>
<rect x="896.5" y="595.5" width="2" height="59" fill="#f8cfd4" stroke="#f4a4ad"/>
<rect x="898.5" y="595.5" width="2" height="59" fill="#f8cfd4" stroke="#f4a4ad"/>
<rect x="901.5" y="611.5" width="2" height="43" fill="#f8cfd4" stroke="#f4a4ad"/>
<rect x="903.5" y="620.5" width="2" height="34" fill="#cdeadc" stroke="#a2d9be"/>
<rect x="905.5" y="629.5" width="2" height="25" fill="#cdeadc" stroke="#a2d9be"/>
<rect x="908.5" y="638.5" width="2" height="16" fill="#f8cfd4" stroke="#f4a4ad"/>
<rect x="910.5" y="649.5" width="2" height="5" fill="#f8cfd4" stroke="#f4a4ad"/>
<rect x="912.5" y="644.5" width="2" height="10" fill="#cdeadc" stroke="#a2d9be"/>
<rect x="915.5" y="642.5" width="2" height="12" fill="#f8cfd4" stroke="#f4a4ad"/>
<rect x="917.5" y="631.5" width="2" height="23" fill="#cdeadc" stroke="#a2d9be"/>
<rect x="919.5" y="646.5" width="2" height="8" fill="#f8cfd4" stroke="#f4a4ad"/>
<rect x="922.5" y="617.5" width="2" height="37" fill="#f8cfd4" stroke="#f4a4ad"/>
<rect x="924.5" y="620.5" width="2" height="34" fill="#cdeadc" stroke="#a2d9be"/>
<rect x="926.5" y="641.5" width="2" height="13" fill="#f8cfd4" stroke="#f4a4ad"/>
<rect x="929.5" y="634.5" width="2" height="20" fill="#cdeadc" stroke="#a2d9be"/>
<rect x="931.5" y="646.5" width="2" height="8" fill="#cdeadc" stroke="#a2d9be"/>
<rect x="933.5" y="629.5" width="2" height="25" fill="#cdeadc" stroke="#a2d9be"/>
<rect x="936.5" y="634.5" width="2" height="20" fill="#cdeadc" stroke="#a2d9be"/>
<rect x="938.5" y="636.5" width="2" height="18" fill="#cdeadc" stroke="#a2d9be"/>
<rect x="940.5" y="646.5" width="2" height="8" fill="#f8cfd4" stroke="#f4a4ad"/>
<rect x="943.5" y="641.5" width="2" height="13" fill="#f8cfd4" stroke="#f4a4ad"/>
<rect x="945.5" y="638.5" width="2" height="16" fill="#cdeadc" stroke="#a2d9be"/>
<rect x="947.5" y="601.5" width="2" height="53" fill="#f8cfd4" stroke="#f4a4ad"/>
<rect x="950.5" y="620.5" width="2" height="34" fill="#cdeadc" stroke="#a2d9be"/>
<rect x="952.5" y="615.5" width="2" height="39" fill="#f8cfd4" stroke="#f4a4ad"/>
<rect x="954.5" y="615.5" width="2" height="39" fill="#f8cfd4" stroke="#f4a4ad"/>
<rect x="957.5" y="615.5" width="2" height="39" fill="#f8cfd4" stroke="#f4a4ad"/>
<rect x="959.5" y="614.5" width="2" height="40" fill="#f8cfd4" stroke="#f4a4ad"/>
<rect x="961.5" y="492.5" width="2" height="162" fill="#cdeadc" stroke="#a2d9be"/>
<rect x="964.5" y="603.5" width="2" height="51" fill="#cdeadc" stroke="#a2d9be"/>
<rect x="966.5" y="647.5" width="2" height="7" fill="#cdeadc" stroke="#a2d9be"/>
<rect x="968.5" y="635.5" width="2" height="19" fill="#cdeadc" stroke="#a2d9be"/>
<rect x="971.5" y="646.5" width="2" height="8" fill="#f8cfd4" stroke="#f4a4ad"/>
<rect x="973.5" y="617.5" width="2" height="37" fill="#f8cfd4" stroke="#f4a4ad"/>
<rect x="975.5" y="638.5" width="2" height="16" fill="#f8cfd4" stroke="#f4a4ad"/>
<rect x="978.5" y="641.5" width="2" height="13" fill="#cdeadc" stroke="#a2d9be"/>
<rect x="980.5" y="640.5" width="2" height="14" fill="#f8cfd4" stroke="#f4a4ad"/>
<rect x="982.5" y="645.5" width="2" height="9" fill="#cdeadc" stroke="#a2d9be"/>
<rect x="985.5" y="641.5" width="2" height="13" fill="#f8cfd4" stroke="#f4a4ad"/>
<rect x="987.5" y="614.5" width="2" height="40" fill="#f8cfd4" stroke="#f4a4ad"/>
<rect x="989.5" y="621.5" width="2" height="33" fill="#cdeadc" stroke="#a2d9be"/>
<rect x="992.5" y="633.5" width="2" height="21" fill="#f8cfd4" stroke="#f4a4ad"/>
<rect x="994.5" y="639.5" width="2" height="15" fill="#f8cfd4" stroke="#f4a4ad"/>
<rect x="996.5" y="635.5" width="2" height="19" fill="#f8cfd4" stroke="#f4a4ad"/>
<rect x="999.5" y="631.5" width="2" height="23" fill="#cdeadc" stroke="#a2d9be"/>
<rect x="1001.5" y="603.5" width="2" height="51" fill="#f8cfd4" stroke="#f4a4ad"/>
<rect x="1003.5" y="603.5" width="2" height="51" fill="#cdeadc" stroke="#a2d9be"/>
<rect x="1006.5" y="587.5" width="2" height="67" fill="#f8cfd4" stroke="#f4a4ad"/>
<rect x="1008.5" y="621.5" width="2" height="33" fill="#f8cfd4" stroke="#f4a4ad"/>
<rect x="1010.5" y="639.5" width="2" height="15" fill="#cdeadc" stroke="#a2d9be"/>
<polyline points="0,631.4 1,631.4 8.5,630 20,630 27.5,632.5 36,631.4 43.4,640.5 53,638.4 61.4,636.3 70,637.3 84.7,636.7 89,635.2 96.4,638.4 103.8,634.2 112.3,632.5 120.8,633.5 129.2,632.5 134.5,634.6 139.8,632.5 148.3,630.3 154.7,625.7 163,622.5 168.4,621.4 173.7,623 180,622 186.4,622 190.7,623.6 195,627.8 203.4,636.3 209.7,633 216,630 220.3,628.9 228.8,631.4 250,631.4 257.4,637.3 261.7,633 269,632 274.4,628.9 281.8,629.9 288,628.2 298.7,627.8 304,626.3 307,631 315.7,633 328.4,634 334.7,636.3 342,638.4 349.6,635.8 354.9,635.2 364.4,631 375,627 380.3,628.9 387.7,626.7 394,626.7 398.3,628.9 404.7,627.8 412,630.3 419.5,627.4 423.7,625.7 430,622.5 436.4,624.6 442.8,624 449,626 455.5,625.2 466,630.3 474.6,627.4 477.8,628.9 482,626.7 487.3,628.2 493.6,627.4 500,628.2 506.4,628.2 510.6,626.3 521,632 534,630.3 540,632.5 549.8,631.6 557,634 563.6,634 576,638.4 585.8,635.2 595,638 600.6,636.7 608,636.7 616.5,635.2 627,634.6 633.5,631.6 642,628.9 648,630.6 654.7,630.6 663,632.5 669.5,631 672.7,628.9 677,631.6 684,627.8 695,621.4 701,622.5 708.7,619.3 716,619.3 722.6,615.2 730.3,621 736.7,612.6 744.5,612 749.6,600.5 753.5,601.8 761,600.3 769,607.5 778,601 785,611.3 789.5,599.8 792.6,598.5 796,604 802.4,601.6 808.8,605.4 816.6,603.6 824.3,608.8 830.7,610 838.5,624.7 844.9,627.6 851.3,626.3 861.6,627.3 870.7,626 879.7,627.6 888.7,625.5 895,626.3 908,620.4 915.7,622.2 926,620.9 937.6,624.2 946.6,628.9 956.9,626.8 962,616.5 969.8,619 973.7,617.8 982.7,620.4 990.4,617.8 998,621 1005.9,619 1010.2,626.3" fill="none" stroke="#ff9850" stroke-width="1.05" stroke-linejoin="round"/>
<polygon points="0,324.5 0.9,324.2 5.6,322.3 10.2,320.8 14.9,316.7 20.5,315.4 27.9,314.3 34.4,311.5 39,315.8 43.7,316.7 50.2,325.1 54,321.4 56.7,324.2 63.3,340 71.6,364.2 75.3,366.6 79,367.3 81.9,369.8 86.5,379 89.3,380.4 94,378.5 97.7,382.4 101.4,371.6 105.1,369.4 107.9,370.7 111.6,377.2 119,387.4 123.7,404.2 127,420 132,438 137,452 140,455 142,458 144,445 146,430 149,408 152.6,401.4 154,399 158,397 162,398.4 170,397.6 177,398.6 181,401 185,404.4 190,404.4 193,414 196,434 199,448 202,452 206,454 214,452 220,453 226,453.6 229,456.5 232,454 234,444 236,432 240,414 243.9,398.6 247.3,390 252.5,376.2 257.3,365 259.4,366 266.2,365 269.7,368.5 272.2,354 274.8,345.3 278.3,329.8 281.7,319.5 285.1,311 286.9,300.6 288.6,288.6 290,290 294,260 299,226 302,215 304.5,210 308,214 311,216 313.7,220 315.7,228.5 319,226 323,226 327,230 330,240 332,249 335,252 338,252 342,256.5 344,255 347,240 349,224 351,200 353,186 355.7,179 359,181 362.5,183 366,198 370,210 374,228 377,236 380,250 384,264 388,286 389,290 392,303 395,305 399,311 401,313 406,311 408,316 413,315 420,309 425,312.4 429.6,309.4 432,317 436,321 443,320.4 447,326 450,336 453,352 456,370 458,384 461,390 465,394 468,395 470,399 471,408 473,413 476,412 480,407 485,401.4 491,400 497,402 502,405 506,409 509,404 513,400 516,406 520,405 522.4,403 526,406 531,409.6 536,413 542,411 550,410.4 553,415 556,421 560,426 564,427 569,424 573,421 578,423 582,427 586,428 589,432 594,434 601,431.6 603,433 608,432 618,432 621,436 624,435 627.6,434 629,420 630,415.5 633.6,413.3 641.4,412.9 644.3,410.5 647.9,408.9 652.2,410 655.5,408.3 659.3,411.5 662.2,410.8 665,405.8 666.9,398.6 668.3,390 669.6,380 672,355 674,335 677,318 680,300 683,270 686,222 690,190 693,160 696,112 699,92 702,78 706,65 710.4,56 713,58 715,50 717.4,45 720.4,49 723,62 727,76 732,88 735,91 737,96 740,95 743,91 745.6,89 747,78 749,58 751,44 753,38 755.4,35 758,39 760,46 762,56 766,72 769,79 772,86 775,90.4 778.4,92.4 780,102 782,107 785.4,113 788,132 790,150 793,163 795,167 799,172 803,179.6 807,181 816,181 819,186 822,196 824.4,205 827.4,207.4 830,204 835,201.6 839,193 843,183.6 845.4,183 847.4,174 850.4,171 854,180 859,192 864,210 868,232 872,250 876,269 879,286 881,306 883,317 886,326 889,330 892,322 895,311 898,308.4 902,310 908,310 910,311.6 916,311.6 926,313.6 930,311 935,313.6 939,320 942,325.6 945,318 948,310 951,302 954,297 958,295 960.4,290 963,284 965,279 968,277 970,262 973,261.6 977,262.4 980,261 982,263 987,262 989,263.4 993,263 996,260 999,258 1002,252.4 1005,249 1008,248 1010.4,253 1010.6,405.5 1007.6,396 1004.6,387 1001.6,376.6 999.3,366.8 996.3,363.8 994.8,357.8 992.6,352.8 989.6,351.5 987.8,354.8 985,354 982,355.5 979,363 976,366.8 974,372 971.6,382 968.2,388 964.8,400.8 961.3,404 957.9,413.2 954.5,420.6 950.5,425.6 947,425.8 945.3,426.6 943.6,422.1 940.7,424.1 938.4,428.1 936.7,428.3 934.4,430.1 929.3,430.4 925.9,435.5 922.4,441.2 919,441.8 915.5,442.6 913.3,440.7 909.8,437.2 905.8,435 902.4,432.1 899.5,428.3 894.4,428.3 892.7,425.8 889.8,424.4 887.5,422.1 885.2,424.6 882.9,429.2 880.6,435.5 878.3,437.6 876,436.7 873.8,433.2 870.9,429.5 868,429.2 864,425.8 860.6,416.6 857.2,404 852.6,392 849,378 846,352 842,322 838,292 834,275 830,267 827,261 824,260 820,263 816,265.4 811,263 808,264 803.6,263.4 801,270 800,276 796,294 793,313 789,319 785,331.4 782.4,328 780,323.6 778,327.4 774,327.4 769,328.4 764,324.4 759,322.6 757,318 755,306 752,280 750,260 749,250 748,234 747,214 745.6,198.6 740,198 736.6,198.6 734,206 731,224 727,246 726,260 723,290 720,324 716,360 715.6,370 713,398.6 710.8,424.4 709.1,444.4 707.3,470 705,476 702,500 699,524 697,536 694.4,544 692.4,545 689,539.6 687,541 685,540 682.4,543 680.4,539.6 679,543 677,541 675,542 673.4,559 670,551 667,542 662,540 658,541 649,541 643,540 637,539 633,531 632,528 629,512 628,504 626,496 622,491 618,487.6 612,487 607,486.4 604,488 601,495 594,495 586,495 578,492 573,489.4 568,491 562,491 558,488 555.6,485 552,487 548,484 544,480 537,483 533,488 529,504 525,512 520,518 514,521.4 510,521.6 506,518.4 500,520 491,519 487,515 484,508 481,500 478,492 475,486 472,483.4 469,490 464,492.4 458,494 454,504 450,513.4 445,511 442,504 439,496 434,478 430,460 426,440 424,434 421,431 419,430 416,418 413,408 411,407 408,412 405,430 402,435 400,442 397,457 394,462 392,461 388,465.6 383,477 376,483.6 369.4,487.4 366,484 363,476 360,463 356,436 352,408 348,360 345,310 343,290 342,288 340,285.7 336,285.7 333,288 331,294 329,310 327,324 325,330.7 320.4,345.3 315.2,360 313.5,376.2 310.9,400.3 307,430 304,450 300,460 294,464 292,462 288,458 284,456 280,459 276,465 272,468 268,476 264,492 260,503 255,512 249,519 244,519.5 240,516 235,504 231,494.5 228,493.7 224,495.7 220,492 212,494 206,492 200,491 196,500 192,513 189,513.7 184,516 178,532 173,544 170,545 162,553 158,552 152,555 149,553 145,541 143,531 140,533 134,533 128,530.7 124,535.5 121,532 116,523 108,515 103.7,496 98,470 94,460 90,448 85.6,440.4 78,439 70,437.6 64,435 60,437 56,436.4 53,426.5 49.3,412.6 44.7,407.9 40,401.4 31.6,400.5 25.1,394.3 17.7,400.5 7.4,400.5 0.9,401.8 0,402" fill="#008080" fill-opacity="0.05" stroke="none"/>
<polyline points="0,363 0.9,362.7 9.3,360.5 16.7,358 24.2,354.9 32.6,355.8 40.9,358.6 48.4,367.9 55.8,379.1 64.2,391.2 74.4,402 81.9,405.1 89.3,413.5 93,420 100,427 108,441 116,453 121,463 128,477 136,491 139,494.5 143,495 148,488 153,479 158,475 168,471.7 178,468 184,459.5 190,459.7 194,467 200,472 206,472.5 214,471 220,473.7 228,475 234,471 240,464 248,454.5 256,442 262,430 269,420 276.5,400.3 281.7,390 288.6,376.2 295.4,357.3 302.3,336.7 307.5,317.8 311,310 315,296 320,286 326,278 331,271 336,269 341,270 346,277 350,290 354,306 359,322 364,336 370,348 376,360 382,368 388,376 392,381 395,383 398,379 403,373 408,364 412,361 416,365 422,372 426,374 430,388 436,402 442,412 445,416 451,428 458,440 468,444 474,449 479,451 484,456 490,459 500,461 506,462.4 512,461.6 520,463 528,458 534,451 542,447 549,446.4 555,451 560,457 568,458 576,457 582,460 588,464 594,464.4 602,461 610,459.6 620,460 626,464 630,470 636,476 640,477.6 646,475.6 654,474.4 658,475.6 663,475 667.2,470 671.5,458.7 675.8,441.5 679.4,423 682.9,404.3 686.5,384.3 689.4,370 694,340 698,316 703,286 708,260 710,242 714,216 718,194 724,170 729,156 735,148 742,144 746,146 749,154 754,170 760,185 766,199 771,206 776,209 780,213 785,222 788,230 792,230 796,228 800,224 806,222.4 812,222 818,225 823,231 828,235 834,238 839,244 843,253 847,268 852,282 858,300 859,304 864,320 870,336 876,356 881,371 885,376.4 890,375 893,372 897,366.4 900,369 904,371.6 910,373.6 916,376.4 920,377.4 926,373.6 931,371 935,371.6 940,374.3 943,375.4 947.5,369 953.5,359.3 958.8,352.5 963,340 968,326 973,317 979,311 985,308.4 990,307 994,309 999,312 1004,318 1008,324 1010.6,329.4" fill="none" stroke="#872323" stroke-width="1.05" stroke-linejoin="round"/>
<polyline points="0,324.5 0.9,324.2 5.6,322.3 10.2,320.8 14.9,316.7 20.5,315.4 27.9,314.3 34.4,311.5 39,315.8 43.7,316.7 50.2,325.1 54,321.4 56.7,324.2 63.3,340 71.6,364.2 75.3,366.6 79,367.3 81.9,369.8 86.5,379 89.3,380.4 94,378.5 97.7,382.4 101.4,371.6 105.1,369.4 107.9,370.7 111.6,377.2 119,387.4 123.7,404.2 127,420 132,438 137,452 140,455 142,458 144,445 146,430 149,408 152.6,401.4 154,399 158,397 162,398.4 170,397.6 177,398.6 181,401 185,404.4 190,404.4 193,414 196,434 199,448 202,452 206,454 214,452 220,453 226,453.6 229,456.5 232,454 234,444 236,432 240,414 243.9,398.6 247.3,390 252.5,376.2 257.3,365 259.4,366 266.2,365 269.7,368.5 272.2,354 274.8,345.3 278.3,329.8 281.7,319.5 285.1,311 286.9,300.6 288.6,288.6 290,290 294,260 299,226 302,215 304.5,210 308,214 311,216 313.7,220 315.7,228.5 319,226 323,226 327,230 330,240 332,249 335,252 338,252 342,256.5 344,255 347,240 349,224 351,200 353,186 355.7,179 359,181 362.5,183 366,198 370,210 374,228 377,236 380,250 384,264 388,286 389,290 392,303 395,305 399,311 401,313 406,311 408,316 413,315 420,309 425,312.4 429.6,309.4 432,317 436,321 443,320.4 447,326 450,336 453,352 456,370 458,384 461,390 465,394 468,395 470,399 471,408 473,413 476,412 480,407 485,401.4 491,400 497,402 502,405 506,409 509,404 513,400 516,406 520,405 522.4,403 526,406 531,409.6 536,413 542,411 550,410.4 553,415 556,421 560,426 564,427 569,424 573,421 578,423 582,427 586,428 589,432 594,434 601,431.6 603,433 608,432 618,432 621,436 624,435 627.6,434 629,420 630,415.5 633.6,413.3 641.4,412.9 644.3,410.5 647.9,408.9 652.2,410 655.5,408.3 659.3,411.5 662.2,410.8 665,405.8 666.9,398.6 668.3,390 669.6,380 672,355 674,335 677,318 680,300 683,270 686,222 690,190 693,160 696,112 699,92 702,78 706,65 710.4,56 713,58 715,50 717.4,45 720.4,49 723,62 727,76 732,88 735,91 737,96 740,95 743,91 745.6,89 747,78 749,58 751,44 753,38 755.4,35 758,39 760,46 762,56 766,72 769,79 772,86 775,90.4 778.4,92.4 780,102 782,107 785.4,113 788,132 790,150 793,163 795,167 799,172 803,179.6 807,181 816,181 819,186 822,196 824.4,205 827.4,207.4 830,204 835,201.6 839,193 843,183.6 845.4,183 847.4,174 850.4,171 854,180 859,192 864,210 868,232 872,250 876,269 879,286 881,306 883,317 886,326 889,330 892,322 895,311 898,308.4 902,310 908,310 910,311.6 916,311.6 926,313.6 930,311 935,313.6 939,320 942,325.6 945,318 948,310 951,302 954,297 958,295 960.4,290 963,284 965,279 968,277 970,262 973,261.6 977,262.4 980,261 982,263 987,262 989,263.4 993,263 996,260 999,258 1002,252.4 1005,249 1008,248 1010.4,253" fill="none" stroke="#0b8383" stroke-width="1.05" stroke-linejoin="round"/>
<polyline points="0,402 0.9,401.8 7.4,400.5 17.7,400.5 25.1,394.3 31.6,400.5 40,401.4 44.7,407.9 49.3,412.6 53,426.5 56,436.4 60,437 64,435 70,437.6 78,439 85.6,440.4 90,448 94,460 98,470 103.7,496 108,515 116,523 121,532 124,535.5 128,530.7 134,533 140,533 143,531 145,541 149,553 152,555 158,552 162,553 170,545 173,544 178,532 184,516 189,513.7 192,513 196,500 200,491 206,492 212,494 220,492 224,495.7 228,493.7 231,494.5 235,504 240,516 244,519.5 249,519 255,512 260,503 264,492 268,476 272,468 276,465 280,459 284,456 288,458 292,462 294,464 300,460 304,450 307,430 310.9,400.3 313.5,376.2 315.2,360 320.4,345.3 325,330.7 327,324 329,310 331,294 333,288 336,285.7 340,285.7 342,288 343,290 345,310 348,360 352,408 356,436 360,463 363,476 366,484 369.4,487.4 376,483.6 383,477 388,465.6 392,461 394,462 397,457 400,442 402,435 405,430 408,412 411,407 413,408 416,418 419,430 421,431 424,434 426,440 430,460 434,478 439,496 442,504 445,511 450,513.4 454,504 458,494 464,492.4 469,490 472,483.4 475,486 478,492 481,500 484,508 487,515 491,519 500,520 506,518.4 510,521.6 514,521.4 520,518 525,512 529,504 533,488 537,483 544,480 548,484 552,487 555.6,485 558,488 562,491 568,491 573,489.4 578,492 586,495 594,495 601,495 604,488 607,486.4 612,487 618,487.6 622,491 626,496 628,504 629,512 632,528 633,531 637,539 643,540 649,541 658,541 662,540 667,542 670,551 673.4,559 675,542 677,541 679,543 680.4,539.6 682.4,543 685,540 687,541 689,539.6 692.4,545 694.4,544 697,536 699,524 702,500 705,476 707.3,470 709.1,444.4 710.8,424.4 713,398.6 715.6,370 716,360 720,324 723,290 726,260 727,246 731,224 734,206 736.6,198.6 740,198 745.6,198.6 747,214 748,234 749,250 750,260 752,280 755,306 757,318 759,322.6 764,324.4 769,328.4 774,327.4 778,327.4 780,323.6 782.4,328 785,331.4 789,319 793,313 796,294 800,276 801,270 803.6,263.4 808,264 811,263 816,265.4 820,263 824,260 827,261 830,267 834,275 838,292 842,322 846,352 849,378 852.6,392 857.2,404 860.6,416.6 864,425.8 868,429.2 870.9,429.5 873.8,433.2 876,436.7 878.3,437.6 880.6,435.5 882.9,429.2 885.2,424.6 887.5,422.1 889.8,424.4 892.7,425.8 894.4,428.3 899.5,428.3 902.4,432.1 905.8,435 909.8,437.2 913.3,440.7 915.5,442.6 919,441.8 922.4,441.2 925.9,435.5 929.3,430.4 934.4,430.1 936.7,428.3 938.4,428.1 940.7,424.1 943.6,422.1 945.3,426.6 947,425.8 950.5,425.6 954.5,420.6 957.9,413.2 961.3,404 964.8,400.8 968.2,388 971.6,382 974,372 976,366.8 979,363 982,355.5 985,354 987.8,354.8 989.6,351.5 992.6,352.8 994.8,357.8 996.3,363.8 999.3,366.8 1001.6,376.6 1004.6,387 1007.6,396 1010.6,405.5" fill="none" stroke="#0b8383" stroke-width="1.05" stroke-linejoin="round"/>
<rect x="0" y="463" width="1178" height="1" fill="#000" shape-rendering="crispEdges"/>
<path d="M0 376.5H1178" stroke="#53b987" stroke-width="1" stroke-dasharray="2 1" shape-rendering="crispEdges"/>
<g shape-rendering="crispEdges"><rect x="1" y="322" width="1" height="21" fill="#f4a3ac"/><rect x="0" y="325" width="3" height="9" fill="#eb4d5c"/><rect x="4" y="325" width="1" height="26" fill="#f4a3ac"/><rect x="3" y="334" width="3" height="13" fill="#eb4d5c"/><rect x="8" y="343" width="1" height="15" fill="#f4a3ac"/><rect x="7" y="343" width="3" height="12" fill="#eb4d5c"/><rect x="11" y="336" width="1" height="21" fill="#a6dac0"/><rect x="10" y="342" width="3" height="13" fill="#53b987"/><rect x="13" y="330" width="1" height="18" fill="#a6dac0"/><rect x="12" y="336" width="3" height="6" fill="#53b987"/><rect x="15" y="336" width="1" height="11" fill="#f4a3ac"/><rect x="14" y="336" width="3" height="5" fill="#eb4d5c"/><rect x="18" y="323" width="1" height="21" fill="#f4a3ac"/><rect x="17" y="340" width="3" height="4" fill="#eb4d5c"/><rect x="20" y="340" width="1" height="20" fill="#f4a3ac"/><rect x="19" y="343" width="3" height="11" fill="#eb4d5c"/><rect x="22" y="352" width="1" height="7" fill="#f4a3ac"/><rect x="21" y="353" width="3" height="3" fill="#eb4d5c"/><rect x="25" y="353" width="1" height="6" fill="#f4a3ac"/><rect x="24" y="354" width="3" height="2" fill="#eb4d5c"/><rect x="27" y="349" width="1" height="39" fill="#f4a3ac"/><rect x="26" y="355" width="3" height="31" fill="#eb4d5c"/><rect x="29" y="385" width="1" height="10" fill="#f4a3ac"/><rect x="28" y="385" width="3" height="4" fill="#eb4d5c"/><rect x="32" y="385" width="1" height="17" fill="#f4a3ac"/><rect x="31" y="388" width="3" height="10" fill="#eb4d5c"/><rect x="35" y="376" width="1" height="29" fill="#a6dac0"/><rect x="34" y="379" width="3" height="13" fill="#53b987"/><rect x="39" y="358" width="1" height="24" fill="#a6dac0"/><rect x="38" y="370" width="3" height="9" fill="#53b987"/><rect x="41" y="362" width="1" height="21" fill="#f4a3ac"/><rect x="40" y="370" width="3" height="7" fill="#eb4d5c"/><rect x="43" y="378" width="1" height="28" fill="#f4a3ac"/><rect x="42" y="378" width="3" height="22" fill="#eb4d5c"/><rect x="46" y="375" width="1" height="35" fill="#a6dac0"/><rect x="45" y="388" width="3" height="12" fill="#53b987"/><rect x="48" y="387" width="1" height="15" fill="#f4a3ac"/><rect x="47" y="388" width="3" height="12" fill="#eb4d5c"/><rect x="51" y="387" width="1" height="13" fill="#a6dac0"/><rect x="50" y="388" width="3" height="12" fill="#53b987"/><rect x="53" y="387" width="1" height="61" fill="#f4a3ac"/><rect x="52" y="388" width="3" height="58" fill="#eb4d5c"/><rect x="56" y="417" width="1" height="32" fill="#a6dac0"/><rect x="55" y="421" width="3" height="25" fill="#53b987"/><rect x="58" y="402" width="1" height="20" fill="#a6dac0"/><rect x="57" y="408" width="3" height="13" fill="#53b987"/><rect x="61" y="400" width="1" height="14" fill="#a6dac0"/><rect x="60" y="404" width="3" height="6" fill="#53b987"/><rect x="64" y="393" width="1" height="18" fill="#a6dac0"/><rect x="63" y="400" width="3" height="8" fill="#53b987"/><rect x="66" y="394" width="1" height="27" fill="#f4a3ac"/><rect x="65" y="400" width="3" height="19" fill="#eb4d5c"/><rect x="69" y="417" width="1" height="10" fill="#f4a3ac"/><rect x="68" y="418" width="3" height="5" fill="#eb4d5c"/><rect x="71" y="418" width="1" height="22" fill="#f4a3ac"/><rect x="70" y="422" width="3" height="7" fill="#eb4d5c"/><rect x="73" y="403" width="1" height="25" fill="#a6dac0"/><rect x="72" y="404" width="3" height="24" fill="#53b987"/><rect x="76" y="392" width="1" height="13" fill="#a6dac0"/><rect x="75" y="403" width="3" height="2" fill="#53b987"/><rect x="78" y="397" width="1" height="15" fill="#f4a3ac"/><rect x="77" y="403" width="3" height="3" fill="#eb4d5c"/><rect x="80" y="393" width="1" height="12" fill="#a6dac0"/><rect x="79" y="401" width="3" height="4" fill="#53b987"/><rect x="83" y="397" width="1" height="32" fill="#f4a3ac"/><rect x="82" y="401" width="3" height="22" fill="#eb4d5c"/><rect x="85" y="420" width="1" height="7" fill="#f4a3ac"/><rect x="84" y="421" width="3" height="3" fill="#eb4d5c"/><rect x="87" y="419" width="1" height="28" fill="#f4a3ac"/><rect x="86" y="420" width="3" height="26" fill="#eb4d5c"/><rect x="90" y="446" width="1" height="10" fill="#f4a3ac"/><rect x="89" y="446" width="3" height="4" fill="#eb4d5c"/><rect x="92" y="446" width="1" height="20" fill="#f4a3ac"/><rect x="91" y="448" width="3" height="17" fill="#eb4d5c"/><rect x="94" y="461" width="1" height="19" fill="#f4a3ac"/><rect x="93" y="463" width="3" height="3" fill="#eb4d5c"/><rect x="97" y="440" width="1" height="30" fill="#a6dac0"/><rect x="96" y="456" width="3" height="10" fill="#53b987"/><rect x="99" y="455" width="1" height="14" fill="#f4a3ac"/><rect x="98" y="456" width="3" height="9" fill="#eb4d5c"/><rect x="101" y="463" width="1" height="61" fill="#f4a3ac"/><rect x="100" y="465" width="3" height="49" fill="#eb4d5c"/><rect x="104" y="497" width="1" height="23" fill="#a6dac0"/><rect x="103" y="499" width="3" height="15" fill="#53b987"/><rect x="106" y="485" width="1" height="19" fill="#a6dac0"/><rect x="105" y="497" width="3" height="3" fill="#53b987"/><rect x="108" y="492" width="1" height="8" fill="#a6dac0"/><rect x="107" y="495" width="3" height="4" fill="#53b987"/><rect x="111" y="481" width="1" height="21" fill="#a6dac0"/><rect x="110" y="481" width="3" height="15" fill="#53b987"/><rect x="113" y="452" width="1" height="31" fill="#a6dac0"/><rect x="112" y="470" width="3" height="11" fill="#53b987"/><rect x="115" y="460" width="1" height="17" fill="#f4a3ac"/><rect x="114" y="470" width="3" height="4" fill="#eb4d5c"/><rect x="118" y="467" width="1" height="29" fill="#f4a3ac"/><rect x="117" y="473" width="3" height="19" fill="#eb4d5c"/><rect x="120" y="488" width="1" height="34" fill="#f4a3ac"/><rect x="119" y="492" width="3" height="17" fill="#eb4d5c"/><rect x="122" y="504" width="1" height="9" fill="#a6dac0"/><rect x="121" y="507" width="3" height="2" fill="#53b987"/><rect x="124" y="504" width="1" height="24" fill="#a6dac0"/><rect x="123" y="505" width="3" height="3" fill="#53b987"/><rect x="126" y="486" width="1" height="26" fill="#a6dac0"/><rect x="125" y="489" width="3" height="19" fill="#53b987"/><rect x="129" y="488" width="1" height="26" fill="#f4a3ac"/><rect x="128" y="489" width="3" height="21" fill="#eb4d5c"/><rect x="132" y="506" width="1" height="9" fill="#f4a3ac"/><rect x="131" y="510" width="3" height="5" fill="#eb4d5c"/><rect x="134" y="512" width="1" height="14" fill="#f4a3ac"/><rect x="133" y="515" width="3" height="9" fill="#eb4d5c"/><rect x="137" y="512" width="1" height="15" fill="#a6dac0"/><rect x="136" y="516" width="3" height="8" fill="#53b987"/><rect x="139" y="494" width="1" height="24" fill="#a6dac0"/><rect x="138" y="494" width="3" height="22" fill="#53b987"/><rect x="141" y="474" width="1" height="21" fill="#a6dac0"/><rect x="140" y="475" width="3" height="19" fill="#53b987"/><rect x="143" y="463" width="1" height="17" fill="#a6dac0"/><rect x="142" y="466" width="3" height="10" fill="#53b987"/><rect x="145" y="403" width="1" height="63" fill="#a6dac0"/><rect x="144" y="409" width="3" height="57" fill="#53b987"/><rect x="148" y="362" width="1" height="51" fill="#a6dac0"/><rect x="147" y="392" width="3" height="17" fill="#53b987"/><rect x="150" y="380" width="1" height="27" fill="#f4a3ac"/><rect x="149" y="392" width="3" height="15" fill="#eb4d5c"/><rect x="152" y="405" width="1" height="29" fill="#f4a3ac"/><rect x="151" y="407" width="3" height="21" fill="#eb4d5c"/><rect x="155" y="423" width="1" height="35" fill="#f4a3ac"/><rect x="154" y="427" width="3" height="27" fill="#eb4d5c"/><rect x="157" y="450" width="1" height="10" fill="#f4a3ac"/><rect x="156" y="454" width="3" height="3" fill="#eb4d5c"/><rect x="159" y="457" width="1" height="39" fill="#f4a3ac"/><rect x="158" y="457" width="3" height="31" fill="#eb4d5c"/><rect x="162" y="467" width="1" height="21" fill="#a6dac0"/><rect x="161" y="471" width="3" height="17" fill="#53b987"/><rect x="164" y="462" width="1" height="11" fill="#a6dac0"/><rect x="163" y="468" width="3" height="4" fill="#53b987"/><rect x="166" y="467" width="1" height="16" fill="#f4a3ac"/><rect x="165" y="468" width="3" height="13" fill="#eb4d5c"/><rect x="169" y="481" width="1" height="3" fill="#f4a3ac"/><rect x="168" y="481" width="3" height="3" fill="#eb4d5c"/><rect x="171" y="480" width="1" height="23" fill="#f4a3ac"/><rect x="170" y="484" width="3" height="12" fill="#eb4d5c"/><rect x="173" y="476" width="1" height="28" fill="#a6dac0"/><rect x="172" y="479" width="3" height="17" fill="#53b987"/><rect x="176" y="462" width="1" height="18" fill="#a6dac0"/><rect x="175" y="466" width="3" height="14" fill="#53b987"/><rect x="178" y="466" width="1" height="6" fill="#f4a3ac"/><rect x="177" y="466" width="3" height="3" fill="#eb4d5c"/><rect x="180" y="448" width="1" height="22" fill="#a6dac0"/><rect x="179" y="453" width="3" height="15" fill="#53b987"/><rect x="183" y="447" width="1" height="24" fill="#f4a3ac"/><rect x="182" y="453" width="3" height="14" fill="#eb4d5c"/><rect x="185" y="463" width="1" height="21" fill="#f4a3ac"/><rect x="184" y="467" width="3" height="11" fill="#eb4d5c"/><rect x="188" y="468" width="1" height="14" fill="#a6dac0"/><rect x="187" y="472" width="3" height="6" fill="#53b987"/><rect x="190" y="469" width="1" height="9" fill="#a6dac0"/><rect x="189" y="470" width="3" height="2" fill="#53b987"/><rect x="193" y="457" width="1" height="15" fill="#a6dac0"/><rect x="192" y="467" width="3" height="3" fill="#53b987"/><rect x="195" y="464" width="1" height="9" fill="#f4a3ac"/><rect x="194" y="466" width="3" height="3" fill="#eb4d5c"/><rect x="198" y="456" width="1" height="17" fill="#a6dac0"/><rect x="197" y="464" width="3" height="5" fill="#53b987"/><rect x="201" y="461" width="1" height="15" fill="#f4a3ac"/><rect x="200" y="464" width="3" height="8" fill="#eb4d5c"/><rect x="204" y="470" width="1" height="35" fill="#f4a3ac"/><rect x="203" y="471" width="3" height="22" fill="#eb4d5c"/><rect x="206" y="472" width="1" height="25" fill="#a6dac0"/><rect x="205" y="478" width="3" height="15" fill="#53b987"/><rect x="208" y="458" width="1" height="23" fill="#a6dac0"/><rect x="207" y="464" width="3" height="15" fill="#53b987"/><rect x="211" y="460" width="1" height="90" fill="#f4a3ac"/><rect x="210" y="464" width="3" height="30" fill="#eb4d5c"/><rect x="213" y="469" width="1" height="28" fill="#a6dac0"/><rect x="212" y="470" width="3" height="24" fill="#53b987"/><rect x="215" y="469" width="1" height="9" fill="#f4a3ac"/><rect x="214" y="470" width="3" height="5" fill="#eb4d5c"/><rect x="218" y="455" width="1" height="61" fill="#f4a3ac"/><rect x="217" y="474" width="3" height="18" fill="#eb4d5c"/><rect x="220" y="475" width="1" height="20" fill="#a6dac0"/><rect x="219" y="475" width="3" height="17" fill="#53b987"/><rect x="222" y="472" width="1" height="24" fill="#f4a3ac"/><rect x="221" y="475" width="3" height="15" fill="#eb4d5c"/><rect x="224" y="486" width="1" height="5" fill="#f4a3ac"/><rect x="223" y="488" width="3" height="3" fill="#eb4d5c"/><rect x="225" y="474" width="1" height="17" fill="#a6dac0"/><rect x="224" y="480" width="3" height="10" fill="#53b987"/><rect x="227" y="466" width="1" height="15" fill="#a6dac0"/><rect x="226" y="470" width="3" height="11" fill="#53b987"/><rect x="229" y="452" width="1" height="19" fill="#a6dac0"/><rect x="228" y="459" width="3" height="11" fill="#53b987"/><rect x="231" y="453" width="1" height="21" fill="#f4a3ac"/><rect x="230" y="459" width="3" height="4" fill="#eb4d5c"/><rect x="234" y="420" width="1" height="43" fill="#a6dac0"/><rect x="233" y="422" width="3" height="41" fill="#53b987"/><rect x="236" y="417" width="1" height="11" fill="#a6dac0"/><rect x="235" y="418" width="3" height="4" fill="#53b987"/><rect x="238" y="392" width="1" height="32" fill="#a6dac0"/><rect x="237" y="406" width="3" height="12" fill="#53b987"/><rect x="241" y="400" width="1" height="18" fill="#f4a3ac"/><rect x="240" y="406" width="3" height="6" fill="#eb4d5c"/><rect x="243" y="388" width="1" height="26" fill="#a6dac0"/><rect x="242" y="400" width="3" height="12" fill="#53b987"/><rect x="245" y="399" width="1" height="26" fill="#f4a3ac"/><rect x="244" y="400" width="3" height="15" fill="#eb4d5c"/><rect x="248" y="402" width="1" height="33" fill="#a6dac0"/><rect x="247" y="404" width="3" height="11" fill="#53b987"/><rect x="250" y="402" width="1" height="6" fill="#a6dac0"/><rect x="249" y="403" width="3" height="2" fill="#53b987"/><rect x="252" y="384" width="1" height="21" fill="#a6dac0"/><rect x="251" y="396" width="3" height="8" fill="#53b987"/><rect x="255" y="390" width="1" height="20" fill="#f4a3ac"/><rect x="254" y="396" width="3" height="2" fill="#eb4d5c"/><rect x="257" y="380" width="1" height="17" fill="#a6dac0"/><rect x="256" y="389" width="3" height="8" fill="#53b987"/><rect x="259" y="386" width="1" height="89" fill="#f4a3ac"/><rect x="258" y="389" width="3" height="59" fill="#eb4d5c"/><rect x="262" y="422" width="1" height="36" fill="#a6dac0"/><rect x="261" y="425" width="3" height="23" fill="#53b987"/><rect x="264" y="390" width="1" height="37" fill="#a6dac0"/><rect x="263" y="400" width="3" height="26" fill="#53b987"/><rect x="266" y="394" width="1" height="17" fill="#f4a3ac"/><rect x="265" y="400" width="3" height="10" fill="#eb4d5c"/><rect x="269" y="408" width="1" height="18" fill="#f4a3ac"/><rect x="268" y="409" width="3" height="3" fill="#eb4d5c"/><rect x="271" y="341" width="1" height="73" fill="#a6dac0"/><rect x="270" y="347" width="3" height="64" fill="#53b987"/><rect x="273" y="332" width="1" height="19" fill="#a6dac0"/><rect x="272" y="336" width="3" height="12" fill="#53b987"/><rect x="276" y="309" width="1" height="30" fill="#a6dac0"/><rect x="275" y="327" width="3" height="10" fill="#53b987"/><rect x="278" y="318" width="1" height="16" fill="#f4a3ac"/><rect x="277" y="327" width="3" height="4" fill="#eb4d5c"/><rect x="280" y="329" width="1" height="75" fill="#f4a3ac"/><rect x="279" y="330" width="3" height="13" fill="#eb4d5c"/><rect x="283" y="338" width="1" height="6" fill="#a6dac0"/><rect x="282" y="340" width="3" height="2" fill="#53b987"/><rect x="285" y="330" width="1" height="22" fill="#a6dac0"/><rect x="284" y="330" width="3" height="12" fill="#53b987"/><rect x="287" y="294" width="1" height="39" fill="#a6dac0"/><rect x="286" y="300" width="3" height="31" fill="#53b987"/><rect x="290" y="277" width="1" height="26" fill="#a6dac0"/><rect x="289" y="277" width="3" height="24" fill="#53b987"/><rect x="294" y="234" width="1" height="47" fill="#a6dac0"/><rect x="293" y="249" width="3" height="28" fill="#53b987"/><rect x="297" y="227" width="1" height="43" fill="#f4a3ac"/><rect x="296" y="249" width="3" height="15" fill="#eb4d5c"/><rect x="301" y="252" width="1" height="32" fill="#f4a3ac"/><rect x="300" y="255" width="3" height="11" fill="#eb4d5c"/><rect x="304" y="263" width="1" height="12" fill="#f4a3ac"/><rect x="303" y="266" width="3" height="3" fill="#eb4d5c"/><rect x="306" y="258" width="1" height="13" fill="#f4a3ac"/><rect x="305" y="268" width="3" height="3" fill="#eb4d5c"/><rect x="309" y="267" width="1" height="17" fill="#f4a3ac"/><rect x="308" y="270" width="3" height="12" fill="#eb4d5c"/><rect x="311" y="273" width="1" height="19" fill="#a6dac0"/><rect x="310" y="277" width="3" height="5" fill="#53b987"/><rect x="313" y="262" width="1" height="20" fill="#a6dac0"/><rect x="312" y="266" width="3" height="12" fill="#53b987"/><rect x="315" y="264" width="1" height="11" fill="#f4a3ac"/><rect x="314" y="266" width="3" height="5" fill="#eb4d5c"/><rect x="318" y="254" width="1" height="17" fill="#a6dac0"/><rect x="317" y="257" width="3" height="14" fill="#53b987"/><rect x="320" y="257" width="1" height="23" fill="#f4a3ac"/><rect x="319" y="257" width="3" height="9" fill="#eb4d5c"/><rect x="322" y="264" width="1" height="6" fill="#f4a3ac"/><rect x="321" y="265" width="3" height="5" fill="#eb4d5c"/><rect x="324" y="270" width="1" height="6" fill="#f4a3ac"/><rect x="323" y="270" width="3" height="4" fill="#eb4d5c"/><rect x="327" y="258" width="1" height="32" fill="#a6dac0"/><rect x="326" y="263" width="3" height="11" fill="#53b987"/><rect x="329" y="261" width="1" height="17" fill="#f4a3ac"/><rect x="328" y="263" width="3" height="15" fill="#eb4d5c"/><rect x="332" y="276" width="1" height="16" fill="#f4a3ac"/><rect x="331" y="277" width="3" height="2" fill="#eb4d5c"/><rect x="335" y="264" width="1" height="17" fill="#a6dac0"/><rect x="334" y="277" width="3" height="2" fill="#53b987"/><rect x="338" y="266" width="1" height="22" fill="#a6dac0"/><rect x="337" y="270" width="3" height="8" fill="#53b987"/><rect x="341" y="265" width="1" height="13" fill="#f4a3ac"/><rect x="340" y="270" width="3" height="7" fill="#eb4d5c"/><rect x="343" y="273" width="1" height="22" fill="#f4a3ac"/><rect x="342" y="276" width="3" height="13" fill="#eb4d5c"/><rect x="345" y="287" width="1" height="42" fill="#f4a3ac"/><rect x="344" y="289" width="3" height="37" fill="#eb4d5c"/><rect x="348" y="324" width="1" height="61" fill="#f4a3ac"/><rect x="347" y="325" width="3" height="56" fill="#eb4d5c"/><rect x="350" y="377" width="1" height="215" fill="#f4a3ac"/><rect x="349" y="381" width="3" height="63" fill="#eb4d5c"/><rect x="352" y="439" width="1" height="33" fill="#f4a3ac"/><rect x="351" y="443" width="3" height="11" fill="#eb4d5c"/><rect x="355" y="437" width="1" height="23" fill="#a6dac0"/><rect x="354" y="440" width="3" height="14" fill="#53b987"/><rect x="357" y="382" width="1" height="60" fill="#a6dac0"/><rect x="356" y="400" width="3" height="40" fill="#53b987"/><rect x="359" y="392" width="1" height="36" fill="#f4a3ac"/><rect x="358" y="400" width="3" height="28" fill="#eb4d5c"/><rect x="362" y="425" width="1" height="11" fill="#f4a3ac"/><rect x="361" y="427" width="3" height="9" fill="#eb4d5c"/><rect x="364" y="386" width="1" height="51" fill="#a6dac0"/><rect x="363" y="392" width="3" height="44" fill="#53b987"/><rect x="366" y="382" width="1" height="13" fill="#a6dac0"/><rect x="365" y="386" width="3" height="6" fill="#53b987"/><rect x="369" y="372" width="1" height="16" fill="#a6dac0"/><rect x="368" y="372" width="3" height="14" fill="#53b987"/><rect x="371" y="342" width="1" height="30" fill="#a6dac0"/><rect x="370" y="348" width="3" height="24" fill="#53b987"/><rect x="373" y="338" width="1" height="25" fill="#f4a3ac"/><rect x="372" y="348" width="3" height="9" fill="#eb4d5c"/><rect x="376" y="340" width="1" height="17" fill="#a6dac0"/><rect x="375" y="345" width="3" height="12" fill="#53b987"/><rect x="378" y="343" width="1" height="23" fill="#f4a3ac"/><rect x="377" y="345" width="3" height="17" fill="#eb4d5c"/><rect x="381" y="348" width="1" height="30" fill="#a6dac0"/><rect x="380" y="348" width="3" height="14" fill="#53b987"/><rect x="383" y="336" width="1" height="13" fill="#a6dac0"/><rect x="382" y="340" width="3" height="8" fill="#53b987"/><rect x="385" y="304" width="1" height="36" fill="#a6dac0"/><rect x="384" y="307" width="3" height="33" fill="#53b987"/><rect x="387" y="304" width="1" height="48" fill="#f4a3ac"/><rect x="386" y="307" width="3" height="43" fill="#eb4d5c"/><rect x="390" y="349" width="1" height="30" fill="#f4a3ac"/><rect x="389" y="349" width="3" height="27" fill="#eb4d5c"/><rect x="392" y="376" width="1" height="16" fill="#f4a3ac"/><rect x="391" y="376" width="3" height="14" fill="#eb4d5c"/><rect x="395" y="385" width="1" height="12" fill="#f4a3ac"/><rect x="394" y="389" width="3" height="5" fill="#eb4d5c"/><rect x="397" y="378" width="1" height="29" fill="#f4a3ac"/><rect x="396" y="394" width="3" height="11" fill="#eb4d5c"/><rect x="399" y="385" width="1" height="21" fill="#a6dac0"/><rect x="398" y="389" width="3" height="16" fill="#53b987"/><rect x="401" y="355" width="1" height="34" fill="#a6dac0"/><rect x="400" y="362" width="3" height="27" fill="#53b987"/><rect x="404" y="352" width="1" height="14" fill="#a6dac0"/><rect x="403" y="358" width="3" height="4" fill="#53b987"/><rect x="406" y="331" width="1" height="28" fill="#a6dac0"/><rect x="405" y="337" width="3" height="21" fill="#53b987"/><rect x="408" y="326" width="1" height="21" fill="#f4a3ac"/><rect x="407" y="337" width="3" height="10" fill="#eb4d5c"/><rect x="410" y="345" width="1" height="7" fill="#f4a3ac"/><rect x="409" y="346" width="3" height="4" fill="#eb4d5c"/><rect x="413" y="350" width="1" height="28" fill="#f4a3ac"/><rect x="412" y="350" width="3" height="27" fill="#eb4d5c"/><rect x="414" y="375" width="1" height="21" fill="#f4a3ac"/><rect x="413" y="376" width="3" height="18" fill="#eb4d5c"/><rect x="416" y="387" width="1" height="27" fill="#f4a3ac"/><rect x="415" y="393" width="3" height="19" fill="#eb4d5c"/><rect x="418" y="407" width="1" height="16" fill="#f4a3ac"/><rect x="417" y="411" width="3" height="2" fill="#eb4d5c"/><rect x="420" y="410" width="1" height="46" fill="#f4a3ac"/><rect x="419" y="411" width="3" height="20" fill="#eb4d5c"/><rect x="423" y="395" width="1" height="39" fill="#a6dac0"/><rect x="422" y="397" width="3" height="34" fill="#53b987"/><rect x="424" y="354" width="1" height="47" fill="#a6dac0"/><rect x="423" y="374" width="3" height="23" fill="#53b987"/><rect x="427" y="368" width="1" height="88" fill="#f4a3ac"/><rect x="426" y="374" width="3" height="81" fill="#eb4d5c"/><rect x="429" y="452" width="1" height="11" fill="#f4a3ac"/><rect x="428" y="454" width="3" height="7" fill="#eb4d5c"/><rect x="431" y="460" width="1" height="22" fill="#f4a3ac"/><rect x="430" y="460" width="3" height="18" fill="#eb4d5c"/><rect x="434" y="446" width="1" height="67" fill="#a6dac0"/><rect x="433" y="457" width="3" height="21" fill="#53b987"/><rect x="436" y="454" width="1" height="4" fill="#a6dac0"/><rect x="435" y="456" width="3" height="2" fill="#53b987"/><rect x="438" y="456" width="1" height="42" fill="#f4a3ac"/><rect x="437" y="456" width="3" height="20" fill="#eb4d5c"/><rect x="441" y="468" width="1" height="14" fill="#a6dac0"/><rect x="440" y="468" width="3" height="8" fill="#53b987"/><rect x="443" y="454" width="1" height="19" fill="#f4a3ac"/><rect x="442" y="458" width="3" height="11" fill="#eb4d5c"/><rect x="445" y="452" width="1" height="17" fill="#a6dac0"/><rect x="444" y="456" width="3" height="12" fill="#53b987"/><rect x="448" y="438" width="1" height="23" fill="#a6dac0"/><rect x="447" y="446" width="3" height="11" fill="#53b987"/><rect x="450" y="436" width="1" height="18" fill="#f4a3ac"/><rect x="449" y="446" width="3" height="5" fill="#eb4d5c"/><rect x="452" y="441" width="1" height="34" fill="#a6dac0"/><rect x="451" y="442" width="3" height="9" fill="#53b987"/><rect x="455" y="430" width="1" height="20" fill="#f4a3ac"/><rect x="454" y="442" width="3" height="5" fill="#eb4d5c"/><rect x="457" y="424" width="1" height="23" fill="#a6dac0"/><rect x="456" y="429" width="3" height="18" fill="#53b987"/><rect x="459" y="412" width="1" height="24" fill="#a6dac0"/><rect x="458" y="418" width="3" height="12" fill="#53b987"/><rect x="462" y="410" width="1" height="30" fill="#f4a3ac"/><rect x="461" y="418" width="3" height="16" fill="#eb4d5c"/><rect x="464" y="429" width="1" height="11" fill="#f4a3ac"/><rect x="463" y="432" width="3" height="2" fill="#eb4d5c"/><rect x="466" y="426" width="1" height="40" fill="#a6dac0"/><rect x="465" y="429" width="3" height="5" fill="#53b987"/><rect x="469" y="410" width="1" height="24" fill="#a6dac0"/><rect x="468" y="413" width="3" height="17" fill="#53b987"/><rect x="471" y="410" width="1" height="61" fill="#f4a3ac"/><rect x="470" y="413" width="3" height="54" fill="#eb4d5c"/><rect x="473" y="461" width="1" height="21" fill="#f4a3ac"/><rect x="472" y="463" width="3" height="3" fill="#eb4d5c"/><rect x="476" y="454" width="1" height="35" fill="#f4a3ac"/><rect x="475" y="463" width="3" height="20" fill="#eb4d5c"/><rect x="478" y="481" width="1" height="43" fill="#f4a3ac"/><rect x="477" y="482" width="3" height="24" fill="#eb4d5c"/><rect x="481" y="483" width="1" height="25" fill="#a6dac0"/><rect x="480" y="484" width="3" height="22" fill="#53b987"/><rect x="483" y="483" width="1" height="41" fill="#f4a3ac"/><rect x="482" y="484" width="3" height="24" fill="#eb4d5c"/><rect x="485" y="500" width="1" height="14" fill="#f4a3ac"/><rect x="484" y="506" width="3" height="2" fill="#eb4d5c"/><rect x="487" y="483" width="1" height="29" fill="#a6dac0"/><rect x="486" y="489" width="3" height="19" fill="#53b987"/><rect x="490" y="488" width="1" height="11" fill="#f4a3ac"/><rect x="489" y="489" width="3" height="2" fill="#eb4d5c"/><rect x="493" y="447" width="1" height="45" fill="#a6dac0"/><rect x="492" y="450" width="3" height="40" fill="#53b987"/><rect x="495" y="439" width="1" height="29" fill="#f4a3ac"/><rect x="494" y="450" width="3" height="18" fill="#eb4d5c"/><rect x="497" y="453" width="1" height="15" fill="#a6dac0"/><rect x="496" y="454" width="3" height="14" fill="#53b987"/><rect x="499" y="447" width="1" height="8" fill="#a6dac0"/><rect x="498" y="451" width="3" height="4" fill="#53b987"/><rect x="501" y="445" width="1" height="22" fill="#f4a3ac"/><rect x="500" y="451" width="3" height="10" fill="#eb4d5c"/><rect x="504" y="441" width="1" height="22" fill="#a6dac0"/><rect x="503" y="454" width="3" height="7" fill="#53b987"/><rect x="506" y="425" width="1" height="30" fill="#a6dac0"/><rect x="505" y="428" width="3" height="26" fill="#53b987"/><rect x="508" y="400" width="1" height="28" fill="#a6dac0"/><rect x="507" y="405" width="3" height="23" fill="#53b987"/><rect x="510" y="400" width="1" height="33" fill="#f4a3ac"/><rect x="509" y="405" width="3" height="21" fill="#eb4d5c"/><rect x="513" y="410" width="1" height="16" fill="#a6dac0"/><rect x="512" y="422" width="3" height="4" fill="#53b987"/><rect x="515" y="416" width="1" height="39" fill="#f4a3ac"/><rect x="514" y="422" width="3" height="30" fill="#eb4d5c"/><rect x="518" y="447" width="1" height="12" fill="#f4a3ac"/><rect x="517" y="451" width="3" height="2" fill="#eb4d5c"/><rect x="520" y="441" width="1" height="31" fill="#f4a3ac"/><rect x="519" y="452" width="3" height="3" fill="#eb4d5c"/><rect x="522" y="446" width="1" height="13" fill="#a6dac0"/><rect x="521" y="448" width="3" height="7" fill="#53b987"/><rect x="524" y="447" width="1" height="33" fill="#f4a3ac"/><rect x="523" y="448" width="3" height="27" fill="#eb4d5c"/><rect x="527" y="464" width="1" height="13" fill="#a6dac0"/><rect x="526" y="470" width="3" height="5" fill="#53b987"/><rect x="529" y="458" width="1" height="15" fill="#a6dac0"/><rect x="528" y="458" width="3" height="12" fill="#53b987"/><rect x="531" y="435" width="1" height="24" fill="#a6dac0"/><rect x="530" y="436" width="3" height="22" fill="#53b987"/><rect x="534" y="420" width="1" height="18" fill="#a6dac0"/><rect x="533" y="428" width="3" height="8" fill="#53b987"/><rect x="536" y="425" width="1" height="37" fill="#f4a3ac"/><rect x="535" y="428" width="3" height="34" fill="#eb4d5c"/><rect x="539" y="456" width="1" height="22" fill="#a6dac0"/><rect x="538" y="458" width="3" height="4" fill="#53b987"/><rect x="541" y="418" width="1" height="97" fill="#a6dac0"/><rect x="540" y="434" width="3" height="24" fill="#53b987"/><rect x="543" y="432" width="1" height="12" fill="#f4a3ac"/><rect x="542" y="434" width="3" height="8" fill="#eb4d5c"/><rect x="545" y="437" width="1" height="49" fill="#f4a3ac"/><rect x="544" y="441" width="3" height="27" fill="#eb4d5c"/><rect x="548" y="458" width="1" height="12" fill="#a6dac0"/><rect x="547" y="464" width="3" height="4" fill="#53b987"/><rect x="550" y="463" width="1" height="15" fill="#f4a3ac"/><rect x="549" y="464" width="3" height="10" fill="#eb4d5c"/><rect x="553" y="468" width="1" height="8" fill="#a6dac0"/><rect x="552" y="468" width="3" height="6" fill="#53b987"/><rect x="555" y="458" width="1" height="13" fill="#a6dac0"/><rect x="554" y="459" width="3" height="10" fill="#53b987"/><rect x="557" y="458" width="1" height="47" fill="#f4a3ac"/><rect x="556" y="459" width="3" height="40" fill="#eb4d5c"/><rect x="560" y="475" width="1" height="28" fill="#a6dac0"/><rect x="559" y="475" width="3" height="24" fill="#53b987"/><rect x="562" y="456" width="1" height="23" fill="#a6dac0"/><rect x="561" y="458" width="3" height="18" fill="#53b987"/><rect x="564" y="446" width="1" height="15" fill="#a6dac0"/><rect x="563" y="446" width="3" height="12" fill="#53b987"/><rect x="566" y="431" width="1" height="17" fill="#a6dac0"/><rect x="565" y="434" width="3" height="12" fill="#53b987"/><rect x="569" y="430" width="1" height="30" fill="#f4a3ac"/><rect x="568" y="434" width="3" height="20" fill="#eb4d5c"/><rect x="571" y="453" width="1" height="7" fill="#f4a3ac"/><rect x="570" y="454" width="3" height="5" fill="#eb4d5c"/><rect x="573" y="430" width="1" height="33" fill="#a6dac0"/><rect x="572" y="433" width="3" height="26" fill="#53b987"/><rect x="576" y="420" width="1" height="60" fill="#f4a3ac"/><rect x="575" y="433" width="3" height="45" fill="#eb4d5c"/><rect x="579" y="454" width="1" height="20" fill="#f4a3ac"/><rect x="578" y="454" width="3" height="20" fill="#eb4d5c"/><rect x="582" y="470" width="1" height="4" fill="#a6dac0"/><rect x="581" y="472" width="3" height="2" fill="#53b987"/><rect x="585" y="471" width="1" height="19" fill="#f4a3ac"/><rect x="584" y="472" width="3" height="14" fill="#eb4d5c"/><rect x="587" y="471" width="1" height="17" fill="#a6dac0"/><rect x="586" y="474" width="3" height="12" fill="#53b987"/><rect x="589" y="462" width="1" height="12" fill="#a6dac0"/><rect x="588" y="466" width="3" height="8" fill="#53b987"/><rect x="592" y="463" width="1" height="18" fill="#f4a3ac"/><rect x="591" y="466" width="3" height="5" fill="#eb4d5c"/><rect x="594" y="467" width="1" height="25" fill="#a6dac0"/><rect x="593" y="467" width="3" height="4" fill="#53b987"/><rect x="597" y="462" width="1" height="8" fill="#a6dac0"/><rect x="596" y="464" width="3" height="4" fill="#53b987"/><rect x="599" y="436" width="1" height="35" fill="#a6dac0"/><rect x="598" y="450" width="3" height="15" fill="#53b987"/><rect x="602" y="440" width="1" height="15" fill="#f4a3ac"/><rect x="601" y="450" width="3" height="4" fill="#eb4d5c"/><rect x="605" y="444" width="1" height="11" fill="#f4a3ac"/><rect x="604" y="452" width="3" height="3" fill="#eb4d5c"/><rect x="607" y="449" width="1" height="18" fill="#f4a3ac"/><rect x="606" y="453" width="3" height="7" fill="#eb4d5c"/><rect x="609" y="454" width="1" height="7" fill="#a6dac0"/><rect x="608" y="458" width="3" height="2" fill="#53b987"/><rect x="611" y="424" width="1" height="42" fill="#a6dac0"/><rect x="610" y="438" width="3" height="22" fill="#53b987"/><rect x="613" y="418" width="1" height="27" fill="#a6dac0"/><rect x="612" y="437" width="3" height="2" fill="#53b987"/><rect x="615" y="434" width="1" height="21" fill="#f4a3ac"/><rect x="614" y="438" width="3" height="13" fill="#eb4d5c"/><rect x="617" y="447" width="1" height="24" fill="#f4a3ac"/><rect x="616" y="450" width="3" height="19" fill="#eb4d5c"/><rect x="620" y="462" width="1" height="18" fill="#f4a3ac"/><rect x="619" y="468" width="3" height="8" fill="#eb4d5c"/><rect x="622" y="452" width="1" height="37" fill="#f4a3ac"/><rect x="621" y="475" width="3" height="11" fill="#eb4d5c"/><rect x="624" y="484" width="1" height="24" fill="#f4a3ac"/><rect x="623" y="485" width="3" height="6" fill="#eb4d5c"/><rect x="627" y="468" width="1" height="36" fill="#f4a3ac"/><rect x="626" y="490" width="3" height="2" fill="#eb4d5c"/><rect x="629" y="489" width="1" height="91" fill="#f4a3ac"/><rect x="628" y="491" width="3" height="80" fill="#eb4d5c"/><rect x="632" y="496" width="1" height="80" fill="#a6dac0"/><rect x="631" y="502" width="3" height="69" fill="#53b987"/><rect x="634" y="478" width="1" height="41" fill="#f4a3ac"/><rect x="633" y="502" width="3" height="13" fill="#eb4d5c"/><rect x="636" y="508" width="1" height="15" fill="#f4a3ac"/><rect x="635" y="514" width="3" height="5" fill="#eb4d5c"/><rect x="638" y="484" width="1" height="46" fill="#a6dac0"/><rect x="637" y="495" width="3" height="24" fill="#53b987"/><rect x="641" y="459" width="1" height="37" fill="#a6dac0"/><rect x="640" y="460" width="3" height="36" fill="#53b987"/><rect x="643" y="440" width="1" height="28" fill="#a6dac0"/><rect x="642" y="446" width="3" height="16" fill="#53b987"/><rect x="645" y="440" width="1" height="11" fill="#a6dac0"/><rect x="644" y="446" width="3" height="1" fill="#53b987"/><rect x="647" y="437" width="1" height="15" fill="#a6dac0"/><rect x="646" y="442" width="3" height="4" fill="#53b987"/><rect x="650" y="429" width="1" height="28" fill="#f4a3ac"/><rect x="649" y="442" width="3" height="12" fill="#eb4d5c"/><rect x="652" y="448" width="1" height="22" fill="#f4a3ac"/><rect x="651" y="454" width="3" height="7" fill="#eb4d5c"/><rect x="655" y="436" width="1" height="31" fill="#a6dac0"/><rect x="654" y="442" width="3" height="19" fill="#53b987"/><rect x="657" y="438" width="1" height="14" fill="#f4a3ac"/><rect x="656" y="442" width="3" height="7" fill="#eb4d5c"/><rect x="660" y="429" width="1" height="46" fill="#a6dac0"/><rect x="659" y="448" width="3" height="1" fill="#53b987"/><rect x="662" y="443" width="1" height="27" fill="#a6dac0"/><rect x="661" y="444" width="3" height="5" fill="#53b987"/><rect x="664" y="430" width="1" height="19" fill="#a6dac0"/><rect x="663" y="434" width="3" height="11" fill="#53b987"/><rect x="666" y="421" width="1" height="18" fill="#a6dac0"/><rect x="665" y="432" width="3" height="3" fill="#53b987"/><rect x="669" y="370" width="1" height="68" fill="#a6dac0"/><rect x="668" y="370" width="3" height="62" fill="#53b987"/><rect x="671" y="349" width="1" height="25" fill="#a6dac0"/><rect x="670" y="355" width="3" height="15" fill="#53b987"/><rect x="673" y="325" width="1" height="37" fill="#a6dac0"/><rect x="672" y="335" width="3" height="21" fill="#53b987"/><rect x="675" y="330" width="1" height="26" fill="#f4a3ac"/><rect x="674" y="335" width="3" height="15" fill="#eb4d5c"/><rect x="678" y="299" width="1" height="66" fill="#a6dac0"/><rect x="677" y="305" width="3" height="45" fill="#53b987"/><rect x="680" y="284" width="1" height="23" fill="#a6dac0"/><rect x="679" y="290" width="3" height="16" fill="#53b987"/><rect x="682" y="227" width="1" height="63" fill="#a6dac0"/><rect x="681" y="227" width="3" height="63" fill="#53b987"/><rect x="685" y="216" width="1" height="44" fill="#f4a3ac"/><rect x="684" y="227" width="3" height="15" fill="#eb4d5c"/><rect x="688" y="222" width="1" height="22" fill="#a6dac0"/><rect x="687" y="222" width="3" height="20" fill="#53b987"/><rect x="692" y="157" width="1" height="71" fill="#a6dac0"/><rect x="691" y="158" width="3" height="64" fill="#53b987"/><rect x="694" y="121" width="1" height="51" fill="#f4a3ac"/><rect x="693" y="158" width="3" height="3" fill="#eb4d5c"/><rect x="697" y="112" width="1" height="56" fill="#a6dac0"/><rect x="696" y="144" width="3" height="16" fill="#53b987"/><rect x="699" y="133" width="1" height="20" fill="#f4a3ac"/><rect x="698" y="144" width="3" height="7" fill="#eb4d5c"/><rect x="701" y="151" width="1" height="28" fill="#f4a3ac"/><rect x="700" y="151" width="3" height="25" fill="#eb4d5c"/><rect x="704" y="170" width="1" height="13" fill="#f4a3ac"/><rect x="703" y="173" width="3" height="4" fill="#eb4d5c"/><rect x="706" y="144" width="1" height="56" fill="#a6dac0"/><rect x="705" y="148" width="3" height="29" fill="#53b987"/><rect x="708" y="146" width="1" height="9" fill="#a6dac0"/><rect x="707" y="146" width="3" height="3" fill="#53b987"/><rect x="710" y="114" width="1" height="34" fill="#a6dac0"/><rect x="709" y="124" width="3" height="24" fill="#53b987"/><rect x="713" y="115" width="1" height="16" fill="#f4a3ac"/><rect x="712" y="124" width="3" height="3" fill="#eb4d5c"/><rect x="715" y="82" width="1" height="50" fill="#a6dac0"/><rect x="714" y="88" width="3" height="38" fill="#53b987"/><rect x="717" y="67" width="1" height="36" fill="#f4a3ac"/><rect x="716" y="88" width="3" height="11" fill="#eb4d5c"/><rect x="720" y="93" width="1" height="57" fill="#f4a3ac"/><rect x="719" y="99" width="3" height="42" fill="#eb4d5c"/><rect x="722" y="139" width="1" height="36" fill="#f4a3ac"/><rect x="721" y="140" width="3" height="32" fill="#eb4d5c"/><rect x="724" y="130" width="1" height="44" fill="#a6dac0"/><rect x="723" y="134" width="3" height="38" fill="#53b987"/><rect x="727" y="134" width="1" height="21" fill="#f4a3ac"/><rect x="726" y="134" width="3" height="18" fill="#eb4d5c"/><rect x="729" y="152" width="1" height="21" fill="#f4a3ac"/><rect x="728" y="152" width="3" height="15" fill="#eb4d5c"/><rect x="731" y="163" width="1" height="43" fill="#f4a3ac"/><rect x="730" y="167" width="3" height="15" fill="#eb4d5c"/><rect x="734" y="104" width="1" height="82" fill="#a6dac0"/><rect x="733" y="119" width="3" height="63" fill="#53b987"/><rect x="736" y="99" width="1" height="99" fill="#f4a3ac"/><rect x="735" y="119" width="3" height="59" fill="#eb4d5c"/><rect x="739" y="171" width="1" height="20" fill="#a6dac0"/><rect x="738" y="171" width="3" height="7" fill="#53b987"/><rect x="741" y="118" width="1" height="58" fill="#a6dac0"/><rect x="740" y="124" width="3" height="48" fill="#53b987"/><rect x="743" y="109" width="1" height="15" fill="#a6dac0"/><rect x="742" y="114" width="3" height="10" fill="#53b987"/><rect x="745" y="99" width="1" height="56" fill="#f4a3ac"/><rect x="744" y="114" width="3" height="35" fill="#eb4d5c"/><rect x="748" y="140" width="1" height="254" fill="#f4a3ac"/><rect x="747" y="149" width="3" height="159" fill="#eb4d5c"/><rect x="751" y="293" width="1" height="45" fill="#a6dac0"/><rect x="750" y="299" width="3" height="9" fill="#53b987"/><rect x="753" y="295" width="1" height="19" fill="#a6dac0"/><rect x="752" y="298" width="3" height="2" fill="#53b987"/><rect x="755" y="288" width="1" height="43" fill="#a6dac0"/><rect x="754" y="290" width="3" height="10" fill="#53b987"/><rect x="757" y="270" width="1" height="22" fill="#a6dac0"/><rect x="756" y="270" width="3" height="20" fill="#53b987"/><rect x="759" y="195" width="1" height="76" fill="#a6dac0"/><rect x="758" y="211" width="3" height="59" fill="#53b987"/><rect x="761" y="205" width="1" height="17" fill="#f4a3ac"/><rect x="760" y="211" width="3" height="10" fill="#eb4d5c"/><rect x="764" y="219" width="1" height="17" fill="#f4a3ac"/><rect x="763" y="220" width="3" height="8" fill="#eb4d5c"/><rect x="766" y="217" width="1" height="15" fill="#a6dac0"/><rect x="765" y="223" width="3" height="5" fill="#53b987"/><rect x="768" y="217" width="1" height="19" fill="#f4a3ac"/><rect x="767" y="223" width="3" height="1" fill="#eb4d5c"/><rect x="771" y="203" width="1" height="24" fill="#a6dac0"/><rect x="770" y="206" width="3" height="18" fill="#53b987"/><rect x="773" y="157" width="1" height="52" fill="#a6dac0"/><rect x="772" y="179" width="3" height="27" fill="#53b987"/><rect x="775" y="160" width="1" height="28" fill="#f4a3ac"/><rect x="774" y="179" width="3" height="9" fill="#eb4d5c"/><rect x="778" y="173" width="1" height="26" fill="#f4a3ac"/><rect x="777" y="188" width="3" height="8" fill="#eb4d5c"/><rect x="780" y="190" width="1" height="23" fill="#f4a3ac"/><rect x="779" y="195" width="3" height="12" fill="#eb4d5c"/><rect x="782" y="205" width="1" height="41" fill="#f4a3ac"/><rect x="781" y="207" width="3" height="39" fill="#eb4d5c"/><rect x="785" y="242" width="1" height="22" fill="#f4a3ac"/><rect x="784" y="246" width="3" height="12" fill="#eb4d5c"/><rect x="787" y="232" width="1" height="32" fill="#a6dac0"/><rect x="786" y="238" width="3" height="20" fill="#53b987"/><rect x="789" y="218" width="1" height="59" fill="#a6dac0"/><rect x="788" y="232" width="3" height="7" fill="#53b987"/><rect x="792" y="226" width="1" height="42" fill="#f4a3ac"/><rect x="791" y="232" width="3" height="27" fill="#eb4d5c"/><rect x="794" y="225" width="1" height="39" fill="#a6dac0"/><rect x="793" y="231" width="3" height="28" fill="#53b987"/><rect x="796" y="214" width="1" height="18" fill="#a6dac0"/><rect x="795" y="215" width="3" height="17" fill="#53b987"/><rect x="799" y="200" width="1" height="20" fill="#a6dac0"/><rect x="798" y="204" width="3" height="12" fill="#53b987"/><rect x="801" y="189" width="1" height="59" fill="#f4a3ac"/><rect x="800" y="204" width="3" height="28" fill="#eb4d5c"/><rect x="803" y="230" width="1" height="25" fill="#f4a3ac"/><rect x="802" y="231" width="3" height="7" fill="#eb4d5c"/><rect x="806" y="223" width="1" height="17" fill="#a6dac0"/><rect x="805" y="225" width="3" height="13" fill="#53b987"/><rect x="808" y="209" width="1" height="23" fill="#a6dac0"/><rect x="807" y="221" width="3" height="5" fill="#53b987"/><rect x="810" y="195" width="1" height="87" fill="#a6dac0"/><rect x="809" y="220" width="3" height="5" fill="#53b987"/><rect x="813" y="210" width="1" height="30" fill="#f4a3ac"/><rect x="812" y="220" width="3" height="14" fill="#eb4d5c"/><rect x="815" y="227" width="1" height="29" fill="#f4a3ac"/><rect x="814" y="233" width="3" height="3" fill="#eb4d5c"/><rect x="818" y="227" width="1" height="13" fill="#a6dac0"/><rect x="817" y="229" width="3" height="6" fill="#53b987"/><rect x="820" y="224" width="1" height="14" fill="#f4a3ac"/><rect x="819" y="229" width="3" height="5" fill="#eb4d5c"/><rect x="822" y="230" width="1" height="20" fill="#f4a3ac"/><rect x="821" y="234" width="3" height="10" fill="#eb4d5c"/><rect x="825" y="236" width="1" height="19" fill="#a6dac0"/><rect x="824" y="242" width="3" height="2" fill="#53b987"/><rect x="827" y="242" width="1" height="18" fill="#f4a3ac"/><rect x="826" y="243" width="3" height="17" fill="#eb4d5c"/><rect x="829" y="256" width="1" height="28" fill="#f4a3ac"/><rect x="828" y="259" width="3" height="15" fill="#eb4d5c"/><rect x="832" y="262" width="1" height="16" fill="#a6dac0"/><rect x="831" y="270" width="3" height="4" fill="#53b987"/><rect x="833" y="251" width="1" height="20" fill="#a6dac0"/><rect x="832" y="267" width="3" height="4" fill="#53b987"/><rect x="836" y="264" width="1" height="23" fill="#f4a3ac"/><rect x="835" y="267" width="3" height="17" fill="#eb4d5c"/><rect x="838" y="281" width="1" height="33" fill="#f4a3ac"/><rect x="837" y="283" width="3" height="25" fill="#eb4d5c"/><rect x="841" y="308" width="1" height="20" fill="#f4a3ac"/><rect x="840" y="308" width="3" height="14" fill="#eb4d5c"/><rect x="843" y="320" width="1" height="30" fill="#f4a3ac"/><rect x="842" y="321" width="3" height="23" fill="#eb4d5c"/><rect x="845" y="340" width="1" height="22" fill="#f4a3ac"/><rect x="844" y="343" width="3" height="7" fill="#eb4d5c"/><rect x="847" y="348" width="1" height="60" fill="#f4a3ac"/><rect x="846" y="350" width="3" height="44" fill="#eb4d5c"/><rect x="850" y="370" width="1" height="40" fill="#a6dac0"/><rect x="849" y="376" width="3" height="18" fill="#53b987"/><rect x="852" y="351" width="1" height="29" fill="#a6dac0"/><rect x="851" y="355" width="3" height="23" fill="#53b987"/><rect x="854" y="331" width="1" height="28" fill="#a6dac0"/><rect x="853" y="348" width="3" height="8" fill="#53b987"/><rect x="857" y="342" width="1" height="29" fill="#f4a3ac"/><rect x="856" y="348" width="3" height="20" fill="#eb4d5c"/><rect x="859" y="364" width="1" height="22" fill="#f4a3ac"/><rect x="858" y="367" width="3" height="13" fill="#eb4d5c"/><rect x="862" y="350" width="1" height="46" fill="#a6dac0"/><rect x="861" y="368" width="3" height="12" fill="#53b987"/><rect x="864" y="368" width="1" height="36" fill="#f4a3ac"/><rect x="863" y="368" width="3" height="25" fill="#eb4d5c"/><rect x="866" y="349" width="1" height="48" fill="#a6dac0"/><rect x="865" y="367" width="3" height="26" fill="#53b987"/><rect x="868" y="349" width="1" height="29" fill="#f4a3ac"/><rect x="867" y="367" width="3" height="10" fill="#eb4d5c"/><rect x="871" y="368" width="1" height="16" fill="#f4a3ac"/><rect x="870" y="377" width="3" height="5" fill="#eb4d5c"/><rect x="873" y="381" width="1" height="24" fill="#f4a3ac"/><rect x="872" y="381" width="3" height="21" fill="#eb4d5c"/><rect x="875" y="401" width="1" height="16" fill="#f4a3ac"/><rect x="874" y="401" width="3" height="9" fill="#eb4d5c"/><rect x="878" y="398" width="1" height="16" fill="#f4a3ac"/><rect x="877" y="409" width="3" height="3" fill="#eb4d5c"/><rect x="880" y="407" width="1" height="14" fill="#a6dac0"/><rect x="879" y="409" width="3" height="3" fill="#53b987"/><rect x="882" y="392" width="1" height="36" fill="#a6dac0"/><rect x="881" y="395" width="3" height="17" fill="#53b987"/><rect x="885" y="347" width="1" height="52" fill="#a6dac0"/><rect x="884" y="347" width="3" height="48" fill="#53b987"/><rect x="888" y="319" width="1" height="32" fill="#a6dac0"/><rect x="887" y="343" width="3" height="5" fill="#53b987"/><rect x="889" y="318" width="1" height="28" fill="#a6dac0"/><rect x="888" y="323" width="3" height="21" fill="#53b987"/><rect x="892" y="320" width="1" height="30" fill="#f4a3ac"/><rect x="891" y="323" width="3" height="15" fill="#eb4d5c"/><rect x="894" y="304" width="1" height="35" fill="#a6dac0"/><rect x="893" y="307" width="3" height="31" fill="#53b987"/><rect x="896" y="277" width="1" height="50" fill="#f4a3ac"/><rect x="895" y="307" width="3" height="19" fill="#eb4d5c"/><rect x="899" y="315" width="1" height="51" fill="#f4a3ac"/><rect x="898" y="326" width="3" height="40" fill="#eb4d5c"/><rect x="901" y="361" width="1" height="34" fill="#f4a3ac"/><rect x="900" y="365" width="3" height="30" fill="#eb4d5c"/><rect x="904" y="391" width="1" height="11" fill="#a6dac0"/><rect x="903" y="392" width="3" height="3" fill="#53b987"/><rect x="906" y="386" width="1" height="43" fill="#f4a3ac"/><rect x="905" y="392" width="3" height="8" fill="#eb4d5c"/><rect x="908" y="377" width="1" height="23" fill="#a6dac0"/><rect x="907" y="381" width="3" height="19" fill="#53b987"/><rect x="910" y="379" width="1" height="37" fill="#f4a3ac"/><rect x="909" y="381" width="3" height="25" fill="#eb4d5c"/><rect x="913" y="396" width="1" height="11" fill="#a6dac0"/><rect x="912" y="398" width="3" height="8" fill="#53b987"/><rect x="915" y="380" width="1" height="37" fill="#f4a3ac"/><rect x="914" y="398" width="3" height="2" fill="#eb4d5c"/><rect x="917" y="380" width="1" height="30" fill="#a6dac0"/><rect x="916" y="385" width="3" height="15" fill="#53b987"/><rect x="920" y="382" width="1" height="22" fill="#f4a3ac"/><rect x="919" y="385" width="3" height="15" fill="#eb4d5c"/><rect x="922" y="393" width="1" height="24" fill="#f4a3ac"/><rect x="921" y="399" width="3" height="5" fill="#eb4d5c"/><rect x="924" y="356" width="1" height="52" fill="#a6dac0"/><rect x="923" y="374" width="3" height="30" fill="#53b987"/><rect x="927" y="372" width="1" height="9" fill="#f4a3ac"/><rect x="926" y="374" width="3" height="7" fill="#eb4d5c"/><rect x="929" y="351" width="1" height="32" fill="#a6dac0"/><rect x="928" y="357" width="3" height="24" fill="#53b987"/><rect x="931" y="338" width="1" height="21" fill="#a6dac0"/><rect x="930" y="345" width="3" height="13" fill="#53b987"/><rect x="934" y="328" width="1" height="32" fill="#f4a3ac"/><rect x="933" y="345" width="3" height="5" fill="#eb4d5c"/><rect x="937" y="340" width="1" height="14" fill="#a6dac0"/><rect x="936" y="343" width="3" height="7" fill="#53b987"/><rect x="940" y="326" width="1" height="21" fill="#a6dac0"/><rect x="939" y="333" width="3" height="11" fill="#53b987"/><rect x="943" y="329" width="1" height="18" fill="#f4a3ac"/><rect x="942" y="333" width="3" height="11" fill="#eb4d5c"/><rect x="945" y="314" width="1" height="31" fill="#a6dac0"/><rect x="944" y="314" width="3" height="30" fill="#53b987"/><rect x="947" y="307" width="1" height="52" fill="#f4a3ac"/><rect x="946" y="314" width="3" height="16" fill="#eb4d5c"/><rect x="950" y="306" width="1" height="37" fill="#a6dac0"/><rect x="949" y="314" width="3" height="16" fill="#53b987"/><rect x="952" y="310" width="1" height="26" fill="#f4a3ac"/><rect x="951" y="314" width="3" height="8" fill="#eb4d5c"/><rect x="955" y="312" width="1" height="16" fill="#f4a3ac"/><rect x="954" y="322" width="3" height="1" fill="#eb4d5c"/><rect x="957" y="322" width="1" height="27" fill="#f4a3ac"/><rect x="956" y="322" width="3" height="14" fill="#eb4d5c"/><rect x="959" y="317" width="1" height="25" fill="#a6dac0"/><rect x="958" y="320" width="3" height="16" fill="#53b987"/><rect x="961" y="241" width="1" height="144" fill="#a6dac0"/><rect x="960" y="299" width="3" height="21" fill="#53b987"/><rect x="964" y="276" width="1" height="27" fill="#a6dac0"/><rect x="963" y="279" width="3" height="21" fill="#53b987"/><rect x="966" y="266" width="1" height="16" fill="#a6dac0"/><rect x="965" y="276" width="3" height="4" fill="#53b987"/><rect x="968" y="243" width="1" height="58" fill="#a6dac0"/><rect x="967" y="264" width="3" height="13" fill="#53b987"/><rect x="971" y="258" width="1" height="17" fill="#f4a3ac"/><rect x="970" y="264" width="3" height="5" fill="#eb4d5c"/><rect x="973" y="268" width="1" height="35" fill="#f4a3ac"/><rect x="972" y="269" width="3" height="31" fill="#eb4d5c"/><rect x="975" y="298" width="1" height="16" fill="#f4a3ac"/><rect x="974" y="300" width="3" height="4" fill="#eb4d5c"/><rect x="978" y="296" width="1" height="10" fill="#a6dac0"/><rect x="977" y="299" width="3" height="5" fill="#53b987"/><rect x="980" y="290" width="1" height="10" fill="#a6dac0"/><rect x="979" y="294" width="3" height="6" fill="#53b987"/><rect x="982" y="290" width="1" height="23" fill="#f4a3ac"/><rect x="981" y="294" width="3" height="17" fill="#eb4d5c"/><rect x="985" y="305" width="1" height="33" fill="#f4a3ac"/><rect x="984" y="310" width="3" height="28" fill="#eb4d5c"/><rect x="987" y="335" width="1" height="18" fill="#f4a3ac"/><rect x="986" y="337" width="3" height="7" fill="#eb4d5c"/><rect x="989" y="308" width="1" height="38" fill="#a6dac0"/><rect x="988" y="316" width="3" height="28" fill="#53b987"/><rect x="992" y="301" width="1" height="24" fill="#f4a3ac"/><rect x="991" y="316" width="3" height="6" fill="#eb4d5c"/><rect x="994" y="310" width="1" height="34" fill="#f4a3ac"/><rect x="993" y="322" width="3" height="22" fill="#eb4d5c"/><rect x="996" y="343" width="1" height="25" fill="#f4a3ac"/><rect x="995" y="344" width="3" height="18" fill="#eb4d5c"/><rect x="998" y="337" width="1" height="25" fill="#a6dac0"/><rect x="997" y="346" width="3" height="16" fill="#53b987"/><rect x="1001" y="340" width="1" height="55" fill="#f4a3ac"/><rect x="1000" y="346" width="3" height="40" fill="#eb4d5c"/><rect x="1003" y="330" width="1" height="78" fill="#a6dac0"/><rect x="1002" y="371" width="3" height="9" fill="#53b987"/><rect x="1006" y="350" width="1" height="36" fill="#f4a3ac"/><rect x="1005" y="371" width="3" height="9" fill="#eb4d5c"/><rect x="1008" y="377" width="1" height="27" fill="#f4a3ac"/><rect x="1007" y="379" width="3" height="4" fill="#eb4d5c"/><rect x="1010" y="368" width="1" height="17" fill="#a6dac0"/><rect x="1009" y="377" width="3" height="6" fill="#53b987"/></g>
<rect x="1179" y="2" width="1" height="654" fill="#555" shape-rendering="crispEdges"/>
<rect x="0" y="655" width="1180" height="1" fill="#555" shape-rendering="crispEdges"/>
<path d="M1180 27.5H1183M1180 56.5H1183M1180 85.5H1183M1180 114.5H1183M1180 143.5H1183M1180 172.5H1183M1180 201.5H1183M1180 230.5H1183M1180 259.5H1183M1180 289.5H1183M1180 318.5H1183M1180 347.5H1183M1180 376.5H1183M1180 405.5H1183M1180 434.5H1183M1180 463.5H1183M1180 492.5H1183M1180 521.5H1183M1180 551.5H1183M1180 580.5H1183M1180 609.5H1183M1180 638.5H1183M16.5 656V659M123.5 656V659M205.5 656V659M284.5 656V659M384.5 656V659M465.5 656V659M544.5 656V659M651.5 656V659M732.5 656V659M811.5 656V659M893.5 656V659M972.5 656V659M1083.5 656V659M1167.5 656V659" stroke="#555" stroke-width="1" fill="none" shape-rendering="crispEdges"/>
</svg>
<div class="pl" style="top:22px">17.750</div><div class="pl" style="top:51px">17.700</div><div class="pl" style="top:80px">17.650</div><div class="pl" style="top:109px">17.600</div><div class="pl" style="top:138px">17.550</div><div class="pl" style="top:167px">17.500</div><div class="pl" style="top:196px">17.450</div><div class="pl" style="top:225px">17.400</div><div class="pl" style="top:254px">17.350</div><div class="pl" style="top:284px">17.300</div><div class="pl" style="top:313px">17.250</div><div class="pl" style="top:342px">17.200</div><div class="pl" style="top:371px">17.150</div><div class="pl" style="top:400px">17.100</div><div class="pl" style="top:429px">17.050</div><div class="pl" style="top:458px">17.000</div><div class="pl" style="top:487px">16.950</div><div class="pl" style="top:516px">16.900</div><div class="pl" style="top:546px">16.850</div><div class="pl" style="top:575px">16.800</div><div class="pl" style="top:604px">16.750</div><div class="pl" style="top:633px">16.700</div>
<div id="tclip"><div class="tl" style="left:-14px">8</div><div class="tl" style="left:93px">10</div><div class="tl" style="left:175px">12:00</div><div class="tl" style="left:254px">15</div><div class="tl" style="left:354px">17</div><div class="tl" style="left:435px">12:00</div><div class="tl" style="left:514px">22</div><div class="tl" style="left:621px">24</div><div class="tl" style="left:702px">12:00</div><div class="tl" style="left:781px">29</div><div class="tl" style="left:863px">12:00</div><div class="tl b" style="left:942px">Feb</div><div class="tl" style="left:1053px">5</div><div class="tl" style="left:1137px">12:00</div></div>
<div class="lab" style="top:369px;background:#53b987"><i></i>17.149</div>
<div class="lab" style="top:386px;left:1189px;width:34px;background:#53b987;text-indent:3.5px">40:20</div>
<div class="lab" style="top:456px;background:#000"><i></i>17.000</div>
<svg class="ib" style="left:1156px;top:11px" width="18" height="18" viewBox="0 0 18 18"><circle cx="9" cy="9" r="7.2" fill="none" stroke="#ff9850" stroke-width="1.5"/><path d="M9 4.6V10.6" stroke="#ff9850" stroke-width="1.6"/><circle cx="9" cy="12.8" r="0.9" fill="#ff9850"/></svg>
<svg class="ib" style="left:5px;top:14px" width="13" height="13" viewBox="0 0 13 13"><rect x="0.5" y="0.5" width="12" height="12" rx="1.2" fill="none" stroke="#666"/><path d="M2.5 6.5H10.5" stroke="#666"/></svg>
<div class="t1" style="left:24px;top:14px">Silver/U.S. Dollar, 60, FXCM</div>
<svg class="ib" style="left:240px;top:21px" width="8" height="4" viewBox="0 0 8 4"><path d="M0 0H8L4 4Z" fill="#b9b9b9"/></svg>
<svg class="ib" style="left:258px;top:16px" width="14" height="14" viewBox="0 0 14 14"><rect width="14" height="14" fill="#000" fill-opacity="0.16"/><ellipse cx="7" cy="7" rx="5.2" ry="4.3" fill="#fff"/><circle cx="7" cy="7" r="2.5" fill="#d6d6d6"/><circle cx="7" cy="7" r="1.1" fill="#fff"/></svg>
<svg class="ib" style="left:275px;top:16px" width="14" height="14" viewBox="0 0 14 14"><rect width="14" height="14" fill="#000" fill-opacity="0.16"/><g transform="translate(7 7)" fill="#fff"><path d="M-1.3 -3L-0.9 -5.3H0.9L1.3 -3Z" transform="rotate(0)"/><path d="M-1.3 -3L-0.9 -5.3H0.9L1.3 -3Z" transform="rotate(45)"/><path d="M-1.3 -3L-0.9 -5.3H0.9L1.3 -3Z" transform="rotate(90)"/><path d="M-1.3 -3L-0.9 -5.3H0.9L1.3 -3Z" transform="rotate(135)"/><path d="M-1.3 -3L-0.9 -5.3H0.9L1.3 -3Z" transform="rotate(180)"/><path d="M-1.3 -3L-0.9 -5.3H0.9L1.3 -3Z" transform="rotate(225)"/><path d="M-1.3 -3L-0.9 -5.3H0.9L1.3 -3Z" transform="rotate(270)"/><path d="M-1.3 -3L-0.9 -5.3H0.9L1.3 -3Z" transform="rotate(315)"/><circle r="3.7"/></g><circle cx="7" cy="7" r="1.9" fill="#d6d6d6"/></svg>
<div class="o1" style="left:297px;top:13px">O</div>
<div class="v1" style="left:310px;top:13px">17.138</div>
<div class="o1" style="left:365.5px;top:13px">H</div>
<div class="v1" style="left:378px;top:13px">17.164</div>
<div class="o1" style="left:433.5px;top:13px">L</div>
<div class="v1" style="left:444.5px;top:13px">17.136</div>
<div class="o1" style="left:499px;top:13px">C</div>
<div class="v1" style="left:511px;top:13px">17.149</div>
<div class="t2" style="left:5px;top:36px;font-size:12.3px">BB (20, close, 2)</div>
<svg class="ib" style="left:98.5px;top:42px" width="8" height="4" viewBox="0 0 8 4"><path d="M0 0H8L4 4Z" fill="#b9b9b9"/></svg>
<svg class="ib" style="left:116px;top:37px" width="14" height="14" viewBox="0 0 14 14"><rect width="14" height="14" fill="#000" fill-opacity="0.16"/><ellipse cx="7" cy="7" rx="5.2" ry="4.3" fill="#fff"/><circle cx="7" cy="7" r="2.5" fill="#d6d6d6"/><circle cx="7" cy="7" r="1.1" fill="#fff"/></svg>
<svg class="ib" style="left:133px;top:37px" width="14" height="14" viewBox="0 0 14 14"><rect width="14" height="14" fill="#000" fill-opacity="0.16"/><g transform="translate(7 7)" fill="#fff"><path d="M-1.3 -3L-0.9 -5.3H0.9L1.3 -3Z" transform="rotate(0)"/><path d="M-1.3 -3L-0.9 -5.3H0.9L1.3 -3Z" transform="rotate(45)"/><path d="M-1.3 -3L-0.9 -5.3H0.9L1.3 -3Z" transform="rotate(90)"/><path d="M-1.3 -3L-0.9 -5.3H0.9L1.3 -3Z" transform="rotate(135)"/><path d="M-1.3 -3L-0.9 -5.3H0.9L1.3 -3Z" transform="rotate(180)"/><path d="M-1.3 -3L-0.9 -5.3H0.9L1.3 -3Z" transform="rotate(225)"/><path d="M-1.3 -3L-0.9 -5.3H0.9L1.3 -3Z" transform="rotate(270)"/><path d="M-1.3 -3L-0.9 -5.3H0.9L1.3 -3Z" transform="rotate(315)"/><circle r="3.7"/></g><circle cx="7" cy="7" r="1.9" fill="#d6d6d6"/></svg>
<svg class="ib" style="left:150px;top:37px" width="14" height="14" viewBox="0 0 14 14"><rect width="14" height="14" fill="#000" fill-opacity="0.16"/><path d="M7 3V11M3 7H11" stroke="#fff" stroke-width="2.3"/></svg>
<svg class="ib" style="left:167px;top:37px" width="14" height="14" viewBox="0 0 14 14"><rect width="14" height="14" fill="#000" fill-opacity="0.16"/><path d="M2.6 2.6L11.4 11.4M11.4 2.6L2.6 11.4" stroke="#fff" stroke-width="1.8"/></svg>
<div class="v2" style="left:189px;top:36.5px;color:#872323">17.2303</div>
<div class="v2" style="left:239.5px;top:36.5px;color:#0b8383">17.3614</div>
<div class="v2" style="left:289.5px;top:36.5px;color:#0b8383">17.0992</div>
<div class="t2" style="left:5px;top:56px;font-size:11.7px">Vol (20)</div>
<svg class="ib" style="left:49.5px;top:62.5px" width="8" height="4" viewBox="0 0 8 4"><path d="M0 0H8L4 4Z" fill="#b9b9b9"/></svg>
<svg class="ib" style="left:67px;top:58px" width="14" height="14" viewBox="0 0 14 14"><rect width="14" height="14" fill="#000" fill-opacity="0.16"/><ellipse cx="7" cy="7" rx="5.2" ry="4.3" fill="#fff"/><circle cx="7" cy="7" r="2.5" fill="#d6d6d6"/><circle cx="7" cy="7" r="1.1" fill="#fff"/></svg>
<svg class="ib" style="left:84px;top:58px" width="14" height="14" viewBox="0 0 14 14"><rect width="14" height="14" fill="#000" fill-opacity="0.16"/><g transform="translate(7 7)" fill="#fff"><path d="M-1.3 -3L-0.9 -5.3H0.9L1.3 -3Z" transform="rotate(0)"/><path d="M-1.3 -3L-0.9 -5.3H0.9L1.3 -3Z" transform="rotate(45)"/><path d="M-1.3 -3L-0.9 -5.3H0.9L1.3 -3Z" transform="rotate(90)"/><path d="M-1.3 -3L-0.9 -5.3H0.9L1.3 -3Z" transform="rotate(135)"/><path d="M-1.3 -3L-0.9 -5.3H0.9L1.3 -3Z" transform="rotate(180)"/><path d="M-1.3 -3L-0.9 -5.3H0.9L1.3 -3Z" transform="rotate(225)"/><path d="M-1.3 -3L-0.9 -5.3H0.9L1.3 -3Z" transform="rotate(270)"/><path d="M-1.3 -3L-0.9 -5.3H0.9L1.3 -3Z" transform="rotate(315)"/><circle r="3.7"/></g><circle cx="7" cy="7" r="1.9" fill="#d6d6d6"/></svg>
<svg class="ib" style="left:101px;top:58px" width="14" height="14" viewBox="0 0 14 14"><rect width="14" height="14" fill="#000" fill-opacity="0.16"/><path d="M7 3V11M3 7H11" stroke="#fff" stroke-width="2.3"/></svg>
<svg class="ib" style="left:118px;top:58px" width="14" height="14" viewBox="0 0 14 14"><rect width="14" height="14" fill="#000" fill-opacity="0.16"/><path d="M2.6 2.6L11.4 11.4M11.4 2.6L2.6 11.4" stroke="#fff" stroke-width="1.8"/></svg>
<div class="v2" style="left:139.5px;top:57px;font-size:11.5px;color:#53b987">2.092K</div>
<div class="v2" style="left:184.5px;top:57px;font-size:11.5px;color:#ff9850">3.585K</div>
<div class="bt" style="left:-10.5px">1d</div>
<div class="bt" style="left:28.5px">5d</div>
<div class="bt" style="left:68.5px">1m</div>
<div class="bt" style="left:109.5px">3m</div>
<div class="bt" style="left:150.5px">6m</div>
<div class="bt" style="left:195px">YTD</div>
<div class="bt" style="left:238.5px">1y</div>
<div class="bt" style="left:277.5px">5y</div>
<div class="bt" style="left:317px">All</div>
<div class="bt" style="left:380px;width:auto;text-align:left">Go to...</div>
<div class="sep" style="left:38px"></div>
<div class="sep" style="left:77px"></div>
<div class="sep" style="left:118px"></div>
<div class="sep" style="left:159px"></div>
<div class="sep" style="left:200px"></div>
<div class="sep" style="left:249px"></div>
<div class="sep" style="left:287px"></div>
<div class="sep" style="left:326px"></div>
<div class="sep" style="left:366px"></div>
<div class="sep" style="left:1012px"></div>
<div class="sep" style="left:1056px"></div>
<div class="sep" style="left:1090px"></div>
<div class="sep" style="left:1132px"></div>
<div class="sep" style="left:1182px"></div>
<div class="bt" style="left:924px;width:80px;text-align:left;font-size:11px;top:678.5px;-webkit-text-stroke:0"><b>17:19:38</b><span style="letter-spacing:-0.35px;margin-left:4px">(UTC)</span></div>
<div class="bt" style="left:1005px">ext</div>
<div class="bt" style="left:1044px">%</div>
<div class="bt" style="left:1082px">log</div>
<div class="bt au" style="left:1128px">auto</div>
<svg class="ib" style="left:1196px;top:678px" width="14" height="14" viewBox="-7 -7 14 14"><g fill="#808285"><path d="M-1.25 -3.4L-0.85 -6.1H0.85L1.25 -3.4Z" transform="rotate(0)"/><path d="M-1.25 -3.4L-0.85 -6.1H0.85L1.25 -3.4Z" transform="rotate(45)"/><path d="M-1.25 -3.4L-0.85 -6.1H0.85L1.25 -3.4Z" transform="rotate(90)"/><path d="M-1.25 -3.4L-0.85 -6.1H0.85L1.25 -3.4Z" transform="rotate(135)"/><path d="M-1.25 -3.4L-0.85 -6.1H0.85L1.25 -3.4Z" transform="rotate(180)"/><path d="M-1.25 -3.4L-0.85 -6.1H0.85L1.25 -3.4Z" transform="rotate(225)"/><path d="M-1.25 -3.4L-0.85 -6.1H0.85L1.25 -3.4Z" transform="rotate(270)"/><path d="M-1.25 -3.4L-0.85 -6.1H0.85L1.25 -3.4Z" transform="rotate(315)"/></g><circle r="3.4" fill="none" stroke="#808285" stroke-width="1.3"/></svg>
</div>
</body></html>
